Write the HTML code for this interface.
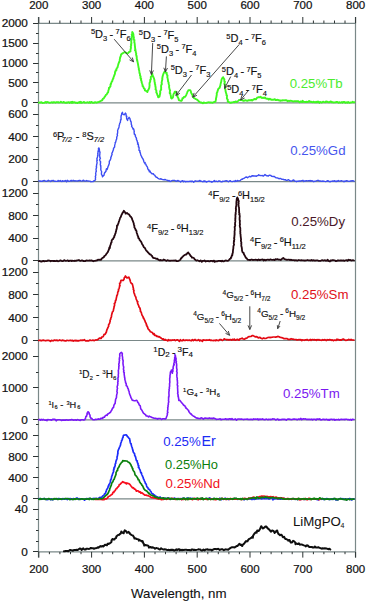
<!DOCTYPE html>
<html><head><meta charset="utf-8"><style>
html,body{margin:0;padding:0;background:#fff;}
svg{display:block;}
</style></head><body>
<svg width="366" height="603" viewBox="0 0 366 603">
<g stroke="#7a8888" stroke-width="1.2" fill="none">
<line x1="38.5" y1="17" x2="38.5" y2="557.6"/>
<line x1="355.5" y1="17" x2="355.5" y2="557.6"/>
<line x1="38.5" y1="23.3" x2="355.5" y2="23.3"/>
<line x1="38.5" y1="102.8" x2="355.5" y2="102.8"/>
<line x1="38.5" y1="181.6" x2="355.5" y2="181.6"/>
<line x1="38.5" y1="260.8" x2="355.5" y2="260.8"/>
<line x1="38.5" y1="340.5" x2="355.5" y2="340.5"/>
<line x1="38.5" y1="419.8" x2="355.5" y2="419.8"/>
<line x1="38.5" y1="498.9" x2="355.5" y2="498.9"/>
<line x1="38.5" y1="551.9" x2="355.5" y2="551.9"/>
</g>
<g stroke="#2c3232" stroke-width="1" fill="none">
<line x1="38.8" y1="17" x2="38.8" y2="23.3"/>
<line x1="38.8" y1="551.9" x2="38.8" y2="557.6"/>
<line x1="49.4" y1="20.5" x2="49.4" y2="23.3"/>
<line x1="49.4" y1="551.9" x2="49.4" y2="554.2"/>
<line x1="59.9" y1="20.5" x2="59.9" y2="23.3"/>
<line x1="59.9" y1="551.9" x2="59.9" y2="554.2"/>
<line x1="70.5" y1="20.5" x2="70.5" y2="23.3"/>
<line x1="70.5" y1="551.9" x2="70.5" y2="554.2"/>
<line x1="81.0" y1="20.5" x2="81.0" y2="23.3"/>
<line x1="81.0" y1="551.9" x2="81.0" y2="554.2"/>
<line x1="91.6" y1="17" x2="91.6" y2="23.3"/>
<line x1="91.6" y1="551.9" x2="91.6" y2="557.6"/>
<line x1="102.2" y1="20.5" x2="102.2" y2="23.3"/>
<line x1="102.2" y1="551.9" x2="102.2" y2="554.2"/>
<line x1="112.7" y1="20.5" x2="112.7" y2="23.3"/>
<line x1="112.7" y1="551.9" x2="112.7" y2="554.2"/>
<line x1="123.3" y1="20.5" x2="123.3" y2="23.3"/>
<line x1="123.3" y1="551.9" x2="123.3" y2="554.2"/>
<line x1="133.8" y1="20.5" x2="133.8" y2="23.3"/>
<line x1="133.8" y1="551.9" x2="133.8" y2="554.2"/>
<line x1="144.4" y1="17" x2="144.4" y2="23.3"/>
<line x1="144.4" y1="551.9" x2="144.4" y2="557.6"/>
<line x1="155.0" y1="20.5" x2="155.0" y2="23.3"/>
<line x1="155.0" y1="551.9" x2="155.0" y2="554.2"/>
<line x1="165.5" y1="20.5" x2="165.5" y2="23.3"/>
<line x1="165.5" y1="551.9" x2="165.5" y2="554.2"/>
<line x1="176.1" y1="20.5" x2="176.1" y2="23.3"/>
<line x1="176.1" y1="551.9" x2="176.1" y2="554.2"/>
<line x1="186.6" y1="20.5" x2="186.6" y2="23.3"/>
<line x1="186.6" y1="551.9" x2="186.6" y2="554.2"/>
<line x1="197.2" y1="17" x2="197.2" y2="23.3"/>
<line x1="197.2" y1="551.9" x2="197.2" y2="557.6"/>
<line x1="207.8" y1="20.5" x2="207.8" y2="23.3"/>
<line x1="207.8" y1="551.9" x2="207.8" y2="554.2"/>
<line x1="218.3" y1="20.5" x2="218.3" y2="23.3"/>
<line x1="218.3" y1="551.9" x2="218.3" y2="554.2"/>
<line x1="228.9" y1="20.5" x2="228.9" y2="23.3"/>
<line x1="228.9" y1="551.9" x2="228.9" y2="554.2"/>
<line x1="239.4" y1="20.5" x2="239.4" y2="23.3"/>
<line x1="239.4" y1="551.9" x2="239.4" y2="554.2"/>
<line x1="250.0" y1="17" x2="250.0" y2="23.3"/>
<line x1="250.0" y1="551.9" x2="250.0" y2="557.6"/>
<line x1="260.6" y1="20.5" x2="260.6" y2="23.3"/>
<line x1="260.6" y1="551.9" x2="260.6" y2="554.2"/>
<line x1="271.1" y1="20.5" x2="271.1" y2="23.3"/>
<line x1="271.1" y1="551.9" x2="271.1" y2="554.2"/>
<line x1="281.7" y1="20.5" x2="281.7" y2="23.3"/>
<line x1="281.7" y1="551.9" x2="281.7" y2="554.2"/>
<line x1="292.2" y1="20.5" x2="292.2" y2="23.3"/>
<line x1="292.2" y1="551.9" x2="292.2" y2="554.2"/>
<line x1="302.8" y1="17" x2="302.8" y2="23.3"/>
<line x1="302.8" y1="551.9" x2="302.8" y2="557.6"/>
<line x1="313.4" y1="20.5" x2="313.4" y2="23.3"/>
<line x1="313.4" y1="551.9" x2="313.4" y2="554.2"/>
<line x1="323.9" y1="20.5" x2="323.9" y2="23.3"/>
<line x1="323.9" y1="551.9" x2="323.9" y2="554.2"/>
<line x1="334.5" y1="20.5" x2="334.5" y2="23.3"/>
<line x1="334.5" y1="551.9" x2="334.5" y2="554.2"/>
<line x1="345.0" y1="20.5" x2="345.0" y2="23.3"/>
<line x1="345.0" y1="551.9" x2="345.0" y2="554.2"/>
<line x1="355.6" y1="17" x2="355.6" y2="23.3"/>
<line x1="355.6" y1="551.9" x2="355.6" y2="557.6"/>
<line x1="33" y1="102.5" x2="38.5" y2="102.5"/>
<line x1="33" y1="82.5" x2="38.5" y2="82.5"/>
<line x1="33" y1="63.5" x2="38.5" y2="63.5"/>
<line x1="33" y1="43.5" x2="38.5" y2="43.5"/>
<line x1="33" y1="23.5" x2="38.5" y2="23.5"/>
<line x1="36" y1="92.5" x2="38.5" y2="92.5"/>
<line x1="36" y1="72.5" x2="38.5" y2="72.5"/>
<line x1="36" y1="53.5" x2="38.5" y2="53.5"/>
<line x1="36" y1="33.5" x2="38.5" y2="33.5"/>
<line x1="33" y1="181.5" x2="38.5" y2="181.5"/>
<line x1="33" y1="159.5" x2="38.5" y2="159.5"/>
<line x1="33" y1="136.5" x2="38.5" y2="136.5"/>
<line x1="33" y1="114.5" x2="38.5" y2="114.5"/>
<line x1="36" y1="170.5" x2="38.5" y2="170.5"/>
<line x1="36" y1="147.5" x2="38.5" y2="147.5"/>
<line x1="36" y1="125.5" x2="38.5" y2="125.5"/>
<line x1="33" y1="260.5" x2="38.5" y2="260.5"/>
<line x1="33" y1="238.5" x2="38.5" y2="238.5"/>
<line x1="33" y1="215.5" x2="38.5" y2="215.5"/>
<line x1="33" y1="193.5" x2="38.5" y2="193.5"/>
<line x1="36" y1="249.5" x2="38.5" y2="249.5"/>
<line x1="36" y1="226.5" x2="38.5" y2="226.5"/>
<line x1="36" y1="204.5" x2="38.5" y2="204.5"/>
<line x1="33" y1="340.5" x2="38.5" y2="340.5"/>
<line x1="33" y1="317.5" x2="38.5" y2="317.5"/>
<line x1="33" y1="294.5" x2="38.5" y2="294.5"/>
<line x1="33" y1="272.5" x2="38.5" y2="272.5"/>
<line x1="36" y1="329.5" x2="38.5" y2="329.5"/>
<line x1="36" y1="306.5" x2="38.5" y2="306.5"/>
<line x1="36" y1="283.5" x2="38.5" y2="283.5"/>
<line x1="33" y1="419.5" x2="38.5" y2="419.5"/>
<line x1="33" y1="387.5" x2="38.5" y2="387.5"/>
<line x1="33" y1="356.5" x2="38.5" y2="356.5"/>
<line x1="36" y1="403.5" x2="38.5" y2="403.5"/>
<line x1="36" y1="372.5" x2="38.5" y2="372.5"/>
<line x1="33" y1="498.5" x2="38.5" y2="498.5"/>
<line x1="33" y1="477.5" x2="38.5" y2="477.5"/>
<line x1="33" y1="456.5" x2="38.5" y2="456.5"/>
<line x1="33" y1="435.5" x2="38.5" y2="435.5"/>
<line x1="36" y1="488.5" x2="38.5" y2="488.5"/>
<line x1="36" y1="467.5" x2="38.5" y2="467.5"/>
<line x1="36" y1="446.5" x2="38.5" y2="446.5"/>
<line x1="36" y1="424.5" x2="38.5" y2="424.5"/>
<line x1="33" y1="551.5" x2="38.5" y2="551.5"/>
<line x1="33" y1="509.5" x2="38.5" y2="509.5"/>
<line x1="36" y1="541.5" x2="38.5" y2="541.5"/>
<line x1="36" y1="530.5" x2="38.5" y2="530.5"/>
<line x1="36" y1="519.5" x2="38.5" y2="519.5"/>
</g>
<g font-family='"Liberation Sans", sans-serif' font-size="11.5" fill="#111" stroke="#111" stroke-width="0.22">
<text x="38.8" y="8.8" text-anchor="middle">200</text>
<text x="38.8" y="573" text-anchor="middle">200</text>
<text x="91.6" y="8.8" text-anchor="middle">300</text>
<text x="91.6" y="573" text-anchor="middle">300</text>
<text x="144.4" y="8.8" text-anchor="middle">400</text>
<text x="144.4" y="573" text-anchor="middle">400</text>
<text x="197.2" y="8.8" text-anchor="middle">500</text>
<text x="197.2" y="573" text-anchor="middle">500</text>
<text x="250.0" y="8.8" text-anchor="middle">600</text>
<text x="250.0" y="573" text-anchor="middle">600</text>
<text x="302.8" y="8.8" text-anchor="middle">700</text>
<text x="302.8" y="573" text-anchor="middle">700</text>
<text x="355.6" y="8.8" text-anchor="middle">800</text>
<text x="355.6" y="573" text-anchor="middle">800</text>
<text x="27.9" y="106.8" text-anchor="end" font-size="11.8">0</text>
<text x="27.9" y="86.9" text-anchor="end" font-size="11.8">500</text>
<text x="27.9" y="67.0" text-anchor="end" font-size="11.8">1000</text>
<text x="27.9" y="47.1" text-anchor="end" font-size="11.8">1500</text>
<text x="27.9" y="27.2" text-anchor="end" font-size="11.8">2000</text>
<text x="27.9" y="185.5" text-anchor="end" font-size="11.8">0</text>
<text x="27.9" y="163.1" text-anchor="end" font-size="11.8">200</text>
<text x="27.9" y="140.6" text-anchor="end" font-size="11.8">400</text>
<text x="27.9" y="118.1" text-anchor="end" font-size="11.8">600</text>
<text x="27.9" y="264.8" text-anchor="end" font-size="11.8">0</text>
<text x="27.9" y="242.2" text-anchor="end" font-size="11.8">400</text>
<text x="27.9" y="219.6" text-anchor="end" font-size="11.8">800</text>
<text x="27.9" y="197.0" text-anchor="end" font-size="11.8">1200</text>
<text x="27.9" y="344.4" text-anchor="end" font-size="11.8">0</text>
<text x="27.9" y="321.6" text-anchor="end" font-size="11.8">400</text>
<text x="27.9" y="298.8" text-anchor="end" font-size="11.8">800</text>
<text x="27.9" y="276.1" text-anchor="end" font-size="11.8">1200</text>
<text x="27.9" y="423.8" text-anchor="end" font-size="11.8">0</text>
<text x="27.9" y="391.9" text-anchor="end" font-size="11.8">1000</text>
<text x="27.9" y="360.1" text-anchor="end" font-size="11.8">2000</text>
<text x="27.9" y="502.8" text-anchor="end" font-size="11.8">0</text>
<text x="27.9" y="481.7" text-anchor="end" font-size="11.8">400</text>
<text x="27.9" y="460.6" text-anchor="end" font-size="11.8">800</text>
<text x="27.9" y="439.5" text-anchor="end" font-size="11.8">1200</text>
<text x="27.9" y="555.9" text-anchor="end" font-size="11.8">0</text>
<text x="27.9" y="513.2" text-anchor="end" font-size="11.8">40</text>
</g>
<text x="131" y="597.9" font-family='"Liberation Sans", sans-serif' font-size="13.3" fill="#111" stroke="#111" stroke-width="0.1">Wavelength, nm</text>
<polyline points="38.8,102.6 39.8,102.5 40.6,102.5 41.5,102.2 42.6,103.0 43.5,102.9 44.4,102.7 45.4,102.0 46.3,102.7 46.8,101.9 47.9,102.2 48.9,102.6 49.7,102.7 50.9,102.6 52.0,102.2 52.8,102.7 53.4,102.2 54.5,102.3 55.4,102.7 56.1,102.3 57.4,102.2 58.2,102.1 58.8,102.6 60.2,102.4 60.9,101.7 61.7,102.4 62.7,102.6 63.8,101.9 64.7,102.7 65.5,102.9 66.1,102.5 67.2,102.7 68.0,102.3 69.0,102.1 69.6,102.9 71.0,101.9 71.9,103.0 72.3,101.8 73.5,102.6 74.7,102.1 75.5,102.9 76.4,102.6 77.4,103.0 78.3,102.7 79.3,101.9 80.1,102.8 80.8,101.8 81.6,102.8 83.0,102.4 84.0,102.0 84.7,102.7 85.7,102.6 86.8,102.5 87.4,102.2 88.4,102.8 89.5,102.1 90.2,102.9 91.2,101.9 92.1,102.4 92.9,102.9 93.8,102.8 95.1,102.1 96.3,102.7 97.4,102.3 98.6,102.1 100.0,101.3 100.7,101.0 101.5,100.5 102.2,100.3 102.8,98.9 103.8,98.4 104.4,97.2 104.7,96.9 105.9,94.9 106.6,94.5 107.4,93.3 107.6,92.6 108.1,92.4 108.4,90.4 108.8,89.6 109.0,87.7 109.3,88.1 110.0,86.8 110.5,86.3 110.5,84.5 111.0,84.1 110.8,83.8 111.3,82.9 111.6,81.9 112.4,80.9 112.5,79.9 112.8,79.3 113.4,78.2 113.4,77.6 113.6,77.2 114.2,75.6 114.7,74.4 115.0,73.4 115.0,71.9 115.4,71.8 115.7,70.3 116.4,70.3 116.4,69.5 116.7,68.2 117.5,67.6 117.8,66.0 117.9,65.7 118.5,63.7 118.5,63.4 119.0,62.6 119.1,62.0 119.8,60.8 119.7,59.9 120.1,58.0 120.1,57.2 120.6,56.8 121.1,54.5 121.9,53.8 122.2,53.6 123.5,52.8 124.7,52.1 126.2,52.8 127.3,53.5 128.3,53.0 129.0,52.0 130.5,51.4 130.4,50.8 130.5,50.2 130.6,49.2 130.7,49.1 131.0,47.7 130.7,46.6 131.2,45.5 131.0,44.2 131.3,44.2 131.4,42.8 131.2,41.9 131.3,40.3 131.4,40.1 131.5,38.5 131.7,37.3 131.9,36.4 132.0,35.0 131.7,34.7 132.2,34.2 132.2,32.2 132.4,32.1 133.0,33.2 133.3,34.0 133.5,35.3 133.2,36.0 133.9,37.2 133.8,37.9 133.7,39.7 134.5,40.1 134.4,40.5 134.3,42.4 134.6,42.8 134.6,43.2 134.8,44.6 134.8,45.3 134.9,45.9 135.1,47.5 135.0,47.8 135.5,49.9 134.9,50.1 135.7,51.1 135.8,52.4 136.0,52.8 136.2,53.1 136.1,54.9 136.7,56.2 136.5,56.3 136.8,57.8 136.7,58.6 137.3,60.3 137.0,60.1 137.6,62.0 137.7,62.9 137.8,62.9 137.8,63.3 138.2,64.9 138.2,65.6 138.5,66.9 138.6,67.8 138.9,68.4 138.8,69.4 139.1,70.1 139.3,71.2 139.5,72.1 139.4,72.9 140.0,74.0 140.0,74.9 140.0,75.8 140.4,75.9 140.7,77.1 140.3,77.9 141.2,78.9 140.9,80.0 141.4,80.7 141.6,82.1 142.0,83.3 142.2,83.7 142.6,85.2 142.5,85.9 143.1,86.3 143.4,87.2 143.9,88.4 144.8,89.0 144.9,90.4 146.0,90.9 146.6,91.1 147.4,92.0 147.9,90.2 148.5,89.8 148.8,88.9 149.3,87.9 149.4,86.7 149.6,85.6 149.5,84.4 149.5,83.8 149.6,82.7 150.2,81.7 150.2,81.2 150.2,79.9 150.8,79.6 150.8,78.3 150.8,76.9 151.6,76.2 152.4,74.0 152.5,75.8 153.0,75.9 153.4,77.3 154.0,78.4 154.3,79.5 154.5,80.7 154.4,80.6 154.5,81.6 154.9,82.9 154.8,84.0 155.2,84.3 155.3,85.6 155.4,86.6 155.7,87.8 155.7,88.5 155.5,89.4 156.2,90.1 156.4,90.9 156.3,92.4 156.8,93.1 157.2,94.3 157.3,94.9 157.8,95.8 158.1,96.9 158.2,97.3 159.5,96.7 159.7,95.5 159.9,94.8 160.0,94.2 160.1,93.9 160.3,92.6 160.1,91.7 160.7,90.1 161.2,89.7 161.1,88.6 161.2,87.9 161.1,86.9 161.1,85.9 161.2,85.3 161.9,84.0 161.6,82.9 161.7,82.5 161.9,80.9 162.1,80.4 162.4,79.0 162.2,79.0 162.4,77.5 162.6,76.9 162.8,75.6 163.3,74.2 163.4,73.9 164.2,72.2 164.8,71.5 165.7,72.8 166.7,72.8 166.7,74.0 166.9,74.8 167.5,75.4 167.3,77.5 167.4,77.4 167.8,79.2 167.9,79.7 168.0,80.6 168.1,81.6 168.6,82.5 168.6,83.6 168.8,84.2 169.2,85.3 169.1,86.7 169.1,87.3 169.3,88.1 169.6,89.5 170.1,90.5 169.9,91.0 169.7,93.2 170.2,93.0 170.4,94.2 170.6,95.0 170.9,96.1 170.9,96.4 171.1,98.0 171.7,98.6 172.8,97.6 173.0,97.1 173.2,96.1 173.4,94.5 173.6,94.1 174.3,93.0 174.7,91.8 175.0,91.8 176.1,91.8 176.5,93.2 176.6,93.9 177.0,94.4 177.6,94.7 177.3,96.5 177.9,97.3 178.3,98.1 178.5,98.3 178.8,100.2 179.0,100.2 180.9,100.8 181.4,100.9 182.3,99.4 182.4,98.3 183.4,98.1 183.9,97.0 185.0,96.9 185.8,95.8 186.2,95.1 186.4,94.4 186.9,93.4 187.0,93.1 187.3,92.1 188.1,90.7 188.4,90.1 190.1,90.1 190.5,90.6 191.0,91.8 191.0,92.6 191.8,94.0 192.4,94.6 192.5,95.6 192.7,96.7 193.4,97.1 194.1,98.2 194.8,98.5 195.9,99.1 196.7,99.3 197.1,99.8 198.0,100.6 198.2,100.7 199.4,101.9 200.5,102.5 201.1,102.5 202.3,102.9 203.1,103.3 203.6,102.5 205.1,102.9 206.5,102.9 207.0,102.6 207.9,102.4 209.1,102.3 209.9,102.5 211.0,102.4 211.8,102.6 212.7,102.7 214.0,102.0 214.4,102.0 215.5,101.6 215.9,99.6 216.0,99.3 216.0,98.3 216.5,96.7 216.4,96.2 216.7,95.3 216.8,94.4 216.7,93.2 217.4,92.0 217.4,91.6 217.9,90.1 218.3,88.9 218.7,88.5 219.7,87.7 220.0,86.3 220.5,85.2 220.4,84.9 220.9,82.8 221.2,81.7 221.3,81.3 221.4,80.3 221.6,79.4 222.4,78.0 223.2,77.2 223.5,78.2 224.4,79.3 224.3,80.1 224.4,81.5 224.9,81.7 224.3,83.9 224.8,84.1 225.0,85.4 224.8,86.0 225.3,87.0 225.1,87.6 225.1,88.9 225.5,89.8 225.5,91.0 225.7,91.4 225.9,92.7 226.3,93.6 226.6,95.0 226.5,95.2 227.0,95.5 226.9,97.1 226.9,98.5 227.4,99.4 227.8,99.6 227.7,101.6 228.8,102.0 229.7,102.5 230.6,102.7 231.6,102.5 232.5,102.4 234.0,102.0 234.6,102.2 235.5,101.5 236.9,102.0 237.6,101.4 238.5,100.6 239.1,100.0 240.0,100.1 241.0,99.9 242.3,100.2 243.1,100.7 244.3,100.7 245.4,100.2 246.2,100.5 247.5,100.9 248.3,100.3 249.7,100.2 250.6,100.2 251.6,100.0 252.2,100.6 253.8,99.3 254.7,99.0 255.9,99.4 257.1,97.7 258.2,97.3 258.9,97.2 259.7,97.4 260.5,96.8 262.0,98.0 263.2,97.7 264.1,98.2 264.9,97.4 266.1,98.6 266.5,98.7 268.0,98.6 268.7,99.6 269.9,98.8 270.8,99.5 271.7,99.8 272.7,99.7 273.6,99.7 274.8,99.2 275.5,100.0 276.7,100.0 277.4,99.7 278.5,100.4 278.9,100.2 280.3,100.8 281.1,100.4 282.1,100.6 282.9,100.2 283.9,100.4 285.1,100.3 286.0,100.3 286.9,100.5 287.8,101.3 288.7,100.7 289.4,101.0 290.6,100.8 291.6,100.9 292.6,101.3 293.5,101.5 294.4,101.1 295.3,101.2 295.9,101.3 297.2,101.3 298.1,101.1 299.0,101.7 299.5,102.3 300.6,101.5 302.3,102.0 302.7,100.8 303.6,101.9 304.2,101.9 305.5,102.0 306.3,101.8 307.2,102.0 308.1,101.9 309.1,101.0 310.1,101.9 310.9,101.6 311.8,102.1 313.1,102.3 313.3,101.6 314.8,102.3 315.6,102.3 316.2,101.8 317.1,102.3 318.0,101.4 319.4,102.9 319.9,101.9 320.8,102.2 321.8,102.6 323.0,101.7 323.7,101.9 324.5,102.1 325.3,102.2 326.0,101.5 327.1,101.7 328.2,102.1 329.1,102.3 329.9,101.9 330.9,101.4 331.9,102.3 332.7,102.1 333.6,102.5 334.6,102.4 335.7,102.3 336.3,102.0 337.1,101.9 338.5,102.7 339.2,102.2 340.1,102.6 340.7,102.6 341.9,102.0 342.7,102.7 343.5,101.9 344.4,102.0 345.3,102.8 346.7,102.3 347.3,102.7 348.2,102.0 349.2,102.8 350.0,102.7 350.8,102.5 352.0,102.4 352.7,101.8 353.5,102.4 354.5,102.3" fill="none" stroke="#40f820" stroke-width="1.9" stroke-linejoin="round" stroke-linecap="round" />
<polyline points="38.8,180.9 40.2,181.0 40.9,181.3 41.6,181.2 42.5,181.2 43.2,180.6 44.4,180.5 45.6,181.2 46.3,181.2 47.1,181.2 48.3,180.2 49.0,180.8 50.5,180.9 50.9,181.5 51.9,180.5 52.9,180.6 53.6,180.4 54.3,181.4 55.4,181.1 56.2,181.4 57.7,181.3 58.0,180.4 59.0,181.2 60.3,180.5 61.2,181.4 62.0,181.5 62.3,180.7 63.4,181.2 64.7,181.0 65.4,180.5 66.6,181.7 67.3,180.3 68.3,181.0 69.1,181.3 70.2,180.8 71.2,180.3 71.7,181.1 72.8,180.7 73.2,180.3 74.9,181.0 75.5,180.8 76.2,180.9 77.5,181.0 78.4,180.8 79.2,180.4 79.9,180.5 81.0,180.9 82.0,181.2 83.0,180.4 83.6,180.2 84.5,181.0 85.4,181.1 86.5,180.5 87.1,180.9 88.2,181.0 88.9,181.1 89.9,181.1 90.8,181.7 91.8,181.6 93.2,181.5 93.6,180.9 94.4,180.7 95.2,180.1 95.5,179.8 95.4,178.4 95.6,177.1 95.3,176.7 95.7,175.6 95.8,175.0 95.8,173.9 95.6,173.1 95.9,172.2 96.2,171.1 96.4,171.3 96.0,169.6 96.2,168.5 96.6,167.7 96.2,166.7 96.6,166.3 96.5,165.3 96.6,164.8 97.1,162.9 96.8,160.8 97.4,160.3 97.0,160.3 96.9,158.3 97.2,158.1 97.4,157.2 98.0,155.4 97.6,155.3 98.1,154.0 97.7,153.5 98.0,152.8 98.0,151.5 98.5,150.0 98.5,148.8 98.4,148.4 98.8,147.9 99.1,148.2 99.4,149.8 99.5,150.2 99.3,151.4 100.1,152.1 99.9,152.8 99.8,154.7 99.7,154.9 99.7,156.1 99.9,157.0 99.8,157.8 100.4,158.2 99.6,159.8 100.1,161.1 100.6,161.7 100.4,162.2 100.6,162.4 100.3,164.9 100.8,165.4 100.6,166.3 100.9,166.7 100.8,168.4 100.9,168.4 100.8,169.8 101.0,170.3 101.5,171.1 101.6,171.9 101.5,172.9 101.4,173.9 101.8,175.0 102.3,175.5 102.5,176.8 103.3,175.9 104.0,175.3 104.2,174.2 104.6,172.6 105.0,172.5 106.1,171.0 106.0,170.4 106.5,168.7 107.1,169.6 107.6,168.1 108.0,166.8 108.2,166.1 108.5,165.7 109.0,164.1 109.2,164.0 109.3,163.3 109.3,161.3 110.1,160.4 110.1,160.1 110.8,158.7 110.8,157.8 110.8,157.3 111.3,156.7 111.5,155.6 112.1,154.4 111.8,153.5 112.4,152.4 112.7,151.6 113.3,150.1 113.5,149.6 113.4,148.9 113.7,148.1 114.2,147.5 114.6,147.1 114.7,145.0 114.8,144.8 115.1,143.9 115.2,142.4 115.6,142.4 115.8,141.6 116.2,139.9 116.6,139.2 116.8,137.9 116.7,137.3 117.1,136.1 117.5,135.6 117.2,134.5 117.5,133.5 117.7,132.0 117.6,131.0 117.7,130.0 118.0,129.6 118.5,128.3 118.8,127.8 119.0,126.9 119.2,125.3 119.5,124.5 119.8,123.1 120.4,122.4 120.4,121.4 120.7,120.5 120.5,119.9 121.1,119.5 121.1,118.7 121.0,117.2 121.1,116.1 121.3,115.6 121.6,114.6 121.7,113.5 122.5,112.3 122.3,113.6 123.1,114.2 124.2,114.8 125.4,113.1 125.9,113.7 126.3,116.5 126.7,116.8 126.8,116.2 126.5,118.1 127.1,119.7 127.6,120.4 127.6,119.2 128.5,118.4 129.1,117.3 130.0,118.6 130.1,119.5 130.6,120.7 130.6,121.2 131.1,121.8 131.3,123.3 131.2,124.0 131.8,125.5 131.6,126.3 132.7,127.8 133.0,129.0 133.5,128.7 134.0,130.0 134.1,131.5 134.3,131.2 134.1,132.6 134.4,134.5 134.9,134.3 135.4,135.3 135.4,136.6 136.0,137.4 136.5,138.3 136.4,138.8 136.5,139.7 137.2,140.8 137.3,142.0 137.9,142.7 137.5,144.1 138.3,144.0 138.5,145.9 138.4,146.9 138.9,147.0 139.1,148.0 139.0,150.3 139.9,150.7 139.7,152.0 140.1,152.0 140.3,152.9 140.6,154.2 141.1,155.7 141.4,156.1 141.8,157.2 142.4,158.1 143.0,159.0 143.6,160.4 143.7,161.2 144.5,163.0 145.1,162.5 145.1,163.9 145.9,164.2 146.3,165.6 146.9,166.3 147.5,167.2 147.7,168.7 148.6,170.2 148.9,169.8 149.4,171.8 150.0,171.1 150.6,172.5 151.7,173.4 152.0,173.9 153.4,173.8 153.6,174.5 154.9,175.3 155.0,175.5 155.5,176.6 156.4,177.3 157.2,177.5 158.0,178.4 159.1,178.9 160.0,179.2 160.9,178.7 161.6,179.3 162.8,179.6 164.0,179.7 165.0,179.5 165.9,179.9 167.2,180.2 168.2,180.9 169.1,180.4 170.2,181.5 170.9,181.1 171.9,180.6 172.7,180.4 173.5,180.4 174.6,180.4 175.5,180.8 176.5,181.3 177.4,180.7 178.1,180.5 179.1,181.3 180.0,181.1 180.6,182.0 182.1,180.7 182.8,180.6 183.3,181.8 184.7,181.1 185.4,181.7 186.4,181.5 187.3,181.4 188.4,181.5 189.1,181.6 190.1,181.0 191.1,181.7 191.9,181.0 192.6,181.3 193.7,182.2 194.6,181.1 195.4,180.8 196.3,181.1 196.7,181.1 198.2,181.3 199.0,180.9 200.0,180.4 201.0,181.4 201.8,181.3 203.1,181.8 204.1,180.8 204.4,181.5 205.6,181.2 206.4,182.1 207.3,181.7 208.6,181.2 209.3,181.1 210.2,181.6 211.1,181.5 211.9,182.2 212.7,181.7 213.6,181.3 214.3,180.5 215.0,181.6 216.4,181.1 217.4,181.6 218.1,181.5 219.0,180.8 220.3,181.2 220.9,181.7 222.1,181.9 222.6,181.1 224.0,181.4 224.5,181.1 226.2,180.6 227.0,180.9 227.7,181.4 228.5,181.7 229.0,181.1 230.2,180.7 231.1,181.3 232.1,181.7 233.1,181.4 234.0,181.2 235.0,181.5 235.4,180.5 236.7,181.3 237.5,180.5 238.4,180.9 239.7,180.6 240.4,180.3 241.6,179.2 242.3,179.4 242.9,178.7 243.9,178.3 244.5,178.1 245.5,177.2 246.6,177.0 247.6,177.8 248.7,176.8 249.2,176.6 249.7,176.3 250.7,176.9 251.6,176.0 252.7,175.8 254.1,176.0 255.3,175.9 256.2,176.3 257.3,175.6 258.1,175.5 258.7,174.8 259.8,175.5 261.3,175.6 262.1,175.5 263.5,176.1 264.5,175.1 265.0,174.6 266.2,175.5 267.1,175.8 268.4,176.0 269.2,175.1 270.9,175.5 271.6,176.2 272.0,176.3 273.2,176.5 274.4,176.4 275.4,177.5 275.7,177.6 276.5,177.9 277.8,178.0 278.5,178.5 279.4,178.7 280.1,178.4 281.0,178.7 282.0,179.4 283.2,179.2 283.9,179.8 284.5,179.7 285.6,179.6 286.1,180.4 287.4,180.2 288.5,179.6 289.2,180.3 290.7,181.2 291.6,181.1 292.5,180.5 293.7,180.0 294.5,181.0 295.5,181.1 296.5,181.7 297.3,181.2 298.0,181.2 299.2,181.0 300.2,181.0 300.7,181.2 301.8,180.7 303.0,180.3 303.9,181.5 304.8,180.9 305.3,181.0 306.4,180.6 307.3,180.9 308.4,180.8 309.2,180.8 310.2,180.5 311.0,181.2 311.9,180.6 312.8,181.1 313.8,181.7 314.9,181.2 315.7,181.1 316.4,180.8 317.4,180.4 318.5,180.4 319.4,181.1 320.3,180.9 321.0,181.2 321.9,181.2 323.0,181.0 323.9,181.3 324.7,181.4 325.6,181.6 326.5,181.4 327.3,180.7 328.7,181.0 329.2,181.5 330.3,181.7 330.9,181.3 331.9,181.4 333.0,180.8 333.9,181.3 334.5,180.7 336.1,181.6 336.8,181.0 337.5,181.3 338.3,180.5 339.3,181.1 340.2,181.1 341.3,180.6 342.2,180.9 343.2,181.1 344.0,181.8 344.9,181.0 345.8,181.2 346.7,180.7 347.5,180.9 348.5,181.4 349.7,181.4 350.4,180.9 351.0,181.1 352.0,180.6 353.2,180.8 354.0,181.2" fill="none" stroke="#3d4ef2" stroke-width="1.4" stroke-linejoin="round" stroke-linecap="round" />
<polyline points="38.8,261.2 39.7,260.9 40.8,261.6 41.5,261.5 42.4,261.3 43.3,260.8 44.3,261.4 45.0,261.1 46.0,261.1 47.0,261.1 47.9,260.4 48.6,260.7 49.8,260.7 50.7,261.3 51.3,260.8 52.4,260.9 53.4,261.0 54.5,260.9 55.4,261.2 56.0,261.1 57.0,260.7 57.9,261.3 58.7,261.1 59.6,260.8 60.4,260.4 61.5,260.9 62.5,261.2 63.3,261.0 64.2,260.2 65.2,260.6 65.9,260.8 66.9,260.7 67.6,260.3 68.8,261.2 69.6,260.7 71.0,260.7 71.4,261.0 72.0,260.6 73.5,260.8 74.2,261.0 74.9,260.6 75.9,260.8 77.1,260.4 77.7,260.4 78.9,260.0 79.6,260.6 80.4,260.8 81.4,260.5 82.4,260.4 83.3,261.0 84.3,261.1 85.1,261.1 85.8,260.7 86.7,260.5 87.6,260.6 89.0,260.7 89.6,260.3 90.4,260.7 91.3,260.4 92.2,260.7 93.3,261.3 94.4,260.8 95.0,260.9 96.1,260.5 97.3,260.4 98.0,259.7 99.3,259.9 100.1,259.6 101.1,259.8 101.7,258.8 102.5,257.8 103.1,257.7 103.9,257.0 104.4,256.0 105.3,255.5 106.0,254.7 106.5,253.7 107.0,253.1 107.5,252.5 108.0,251.7 108.5,250.3 108.9,249.7 109.2,248.2 109.4,247.3 109.9,248.0 110.0,246.4 110.5,244.9 110.8,244.4 110.9,243.1 111.6,242.3 111.6,241.4 111.7,240.4 112.5,239.2 113.1,239.1 113.8,237.4 114.3,237.0 114.2,236.1 114.8,235.4 115.1,234.2 115.3,233.5 115.7,232.9 115.8,231.7 116.1,231.2 116.3,229.7 116.5,229.5 116.9,227.7 116.9,227.6 117.0,225.3 117.5,225.7 117.9,224.5 118.4,223.4 118.6,222.6 118.9,221.5 119.1,221.1 119.8,218.9 120.0,218.0 120.6,217.3 120.9,216.7 121.2,215.7 121.8,214.3 122.1,214.1 122.4,213.1 123.2,212.1 123.9,210.8 124.6,212.0 125.3,212.3 125.6,213.7 127.0,213.0 127.8,213.8 128.9,214.4 129.7,215.3 130.1,216.2 131.1,217.0 131.7,217.9 132.1,218.9 132.2,219.6 132.7,220.6 133.0,221.4 133.5,222.7 133.8,223.6 133.8,224.2 134.0,225.1 134.4,225.8 134.3,227.1 134.8,228.0 135.2,228.6 135.6,230.1 136.0,230.0 136.5,231.2 136.6,232.2 136.8,233.1 137.2,233.9 137.6,235.6 137.9,236.0 138.3,236.8 138.2,238.0 139.0,238.3 139.4,239.6 140.1,240.5 140.5,240.9 141.1,241.8 141.7,242.9 141.9,243.8 142.6,244.8 143.1,245.5 143.3,246.2 143.8,247.2 144.4,247.6 144.9,248.0 145.6,249.4 146.1,250.3 146.8,251.0 147.6,252.0 148.5,252.9 148.9,253.3 149.8,254.3 150.5,254.3 151.6,255.7 152.3,256.3 152.8,257.7 154.1,258.1 155.1,258.2 156.1,258.8 157.3,258.6 158.4,259.8 159.3,260.3 160.7,260.0 161.5,260.4 162.8,260.4 163.6,259.5 164.5,259.8 165.5,260.5 166.5,260.9 167.3,260.2 168.1,260.5 169.2,260.6 170.0,260.8 170.8,260.6 171.9,260.7 173.0,260.7 173.8,260.5 174.7,260.6 175.6,260.3 176.4,261.0 177.8,261.1 178.7,260.7 180.0,259.9 180.6,259.5 180.8,258.4 181.4,258.2 182.2,257.1 182.7,256.7 183.5,255.9 184.3,255.3 185.6,254.5 186.4,254.6 187.0,253.6 187.6,252.9 188.2,252.4 188.8,253.5 189.6,254.1 190.2,255.3 190.8,256.2 191.4,256.4 191.9,257.7 192.8,257.7 193.9,258.0 194.8,259.5 195.1,259.6 196.3,260.7 197.3,260.2 198.6,260.8 199.4,261.3 200.6,260.4 201.8,261.8 203.0,260.8 204.0,260.8 204.5,260.5 205.7,261.5 206.2,261.2 207.4,261.1 208.2,261.0 209.1,261.4 210.0,261.3 210.7,260.8 211.8,260.9 212.8,261.4 214.0,260.6 214.6,261.9 215.6,261.3 216.6,261.4 217.5,261.3 218.4,260.9 219.3,260.9 220.7,261.0 221.5,261.4 222.2,260.7 223.3,261.4 224.0,261.3 225.0,260.7 226.2,260.5 227.2,260.8 228.3,260.6 229.3,259.6 229.9,258.9 230.9,258.5 230.9,257.5 231.6,256.9 231.8,255.4 232.4,255.1 232.4,253.9 232.6,253.4 232.9,252.3 232.9,251.1 233.0,250.6 233.1,249.2 233.3,248.8 233.4,246.9 233.5,245.8 233.9,245.0 234.1,244.8 233.7,243.3 233.9,241.8 234.2,241.2 233.8,241.1 234.4,239.5 234.0,238.1 234.3,237.9 234.4,236.1 234.4,235.6 234.7,234.8 234.4,234.0 234.7,233.2 234.5,231.9 234.7,230.6 234.8,230.3 234.8,228.9 234.8,228.0 234.6,227.0 235.1,226.0 235.3,225.1 235.0,224.5 235.1,222.7 235.3,221.7 235.4,221.1 235.2,220.2 235.3,219.8 235.4,218.4 235.4,217.3 235.5,216.1 235.4,215.7 235.5,214.1 235.8,213.9 235.6,212.9 235.8,211.9 235.9,211.1 235.9,209.7 236.1,209.1 235.8,208.7 236.0,207.0 236.1,206.1 236.3,205.9 236.4,204.5 236.3,203.7 236.5,202.7 236.3,202.2 236.6,200.9 236.6,200.1 236.8,198.7 237.3,197.4 238.0,198.6 238.3,199.9 238.5,200.7 238.8,201.4 238.5,202.3 238.7,203.6 238.4,204.6 238.6,205.4 238.6,206.7 239.0,207.2 239.0,208.1 239.1,209.0 239.1,210.3 239.2,211.2 239.0,212.1 239.3,213.2 239.6,213.9 239.2,214.4 239.6,214.8 239.8,216.7 239.6,217.5 239.6,218.4 239.6,219.4 239.6,220.0 240.0,220.8 239.8,221.9 239.8,223.1 240.0,224.5 239.8,225.3 239.7,225.7 240.0,227.3 240.3,228.1 240.3,228.4 240.3,229.8 240.4,230.9 240.2,231.7 240.4,232.5 240.3,233.7 240.6,234.5 240.6,236.0 240.7,236.4 240.8,237.3 240.9,238.1 241.1,239.3 240.9,240.4 241.0,241.5 241.4,242.4 241.2,243.6 241.4,243.7 241.3,245.5 241.3,246.0 241.7,247.1 241.9,248.5 242.0,249.5 242.0,250.4 242.5,252.1 243.0,252.7 243.8,253.0 243.9,254.2 244.9,255.7 245.2,256.5 245.9,257.7 246.6,258.3 247.7,259.8 249.2,259.8 250.1,260.1 251.0,259.7 251.8,259.5 252.8,260.1 253.8,259.9 254.5,259.8 255.7,259.6 256.3,259.8 257.3,260.3 258.6,259.4 259.2,260.0 260.3,260.0 261.2,259.6 261.9,259.6 262.9,259.4 263.6,260.5 264.8,259.6 265.6,260.4 266.4,259.9 267.6,259.7 268.5,259.7 269.1,260.1 270.1,259.5 270.9,259.5 271.9,259.8 272.5,259.8 273.8,259.7 274.7,260.1 275.5,259.1 276.5,259.5 277.5,259.1 278.6,259.7 279.7,259.6 280.7,260.0 281.6,259.3 282.3,258.6 283.3,258.0 284.3,259.0 285.3,259.4 286.0,259.5 286.9,259.8 288.2,259.6 289.3,259.6 289.9,260.1 290.7,259.7 291.9,260.1 293.0,260.2 294.0,260.1 294.8,260.5 295.9,260.2 296.8,260.5 297.7,260.6 298.7,260.0 299.5,260.2 300.5,260.4 301.4,260.1 302.3,260.3 303.2,260.4 304.2,260.5 305.1,260.6 305.9,260.4 306.8,260.3 307.6,260.0 308.5,260.3 309.6,260.4 310.5,260.6 311.5,259.9 312.3,260.6 313.2,260.2 314.2,260.6 315.0,260.5 315.8,260.6 316.7,260.4 317.4,260.4 318.7,260.8 319.4,260.9 320.6,260.8 321.3,260.5 322.1,260.2 323.5,260.6 324.0,260.5 325.0,260.1 325.9,260.8 326.8,260.7 327.7,259.7 328.4,261.0 329.9,261.5 330.6,260.3 331.6,260.7 332.2,260.2 333.2,260.1 334.0,260.3 334.9,260.4 335.9,261.2 336.9,260.9 337.5,260.5 338.5,260.3 339.8,260.6 340.1,260.5 341.3,260.4 341.8,260.6 343.3,260.3 344.3,260.9 344.9,260.5 345.6,260.3 346.8,260.1 347.6,260.9 348.6,259.7 349.3,260.2 350.3,260.0 351.1,260.5 352.2,260.3 352.9,260.2 354.0,260.5" fill="none" stroke="#240810" stroke-width="1.8" stroke-linejoin="round" stroke-linecap="round" />
<polyline points="38.8,340.5 39.6,340.2 40.6,340.3 41.2,340.8 42.3,340.4 43.3,340.2 44.7,340.5 45.1,340.6 45.9,340.8 47.1,340.3 47.7,340.3 48.5,340.3 49.9,340.9 50.5,341.4 51.5,340.4 52.4,340.7 53.2,340.8 54.5,340.0 55.3,340.4 56.0,340.4 56.8,340.0 57.9,340.7 58.8,340.5 59.7,339.9 60.4,340.3 61.4,340.7 62.3,340.2 63.2,340.4 64.1,340.6 65.4,340.9 65.9,340.9 67.0,340.3 68.0,340.5 68.8,340.6 69.6,340.4 70.3,340.2 71.2,340.6 72.5,340.3 73.3,341.1 74.3,340.4 75.1,340.9 75.9,340.3 76.7,340.9 78.0,340.6 78.6,340.9 79.6,340.5 80.5,340.2 81.5,340.3 82.2,340.2 83.2,340.4 84.3,339.7 85.1,340.5 85.9,341.0 86.9,340.7 87.9,340.9 88.6,341.0 89.6,340.2 90.5,340.2 91.0,340.5 92.1,340.5 92.9,340.1 94.2,340.7 94.8,340.2 96.0,339.9 97.1,340.0 97.8,339.6 99.4,338.1 99.8,338.1 101.3,338.3 101.7,337.1 103.1,336.7 103.6,335.6 104.1,334.3 105.1,334.3 105.6,333.6 106.0,332.5 106.3,332.3 106.8,330.1 107.0,329.6 107.7,328.2 108.0,327.4 108.6,326.4 108.6,325.6 108.7,324.3 109.0,324.3 109.6,323.4 109.8,322.3 110.2,321.2 110.0,320.4 110.7,319.3 110.7,318.1 111.2,317.6 111.5,316.4 111.5,315.5 111.8,314.6 111.8,313.8 112.2,313.1 112.3,312.2 113.0,311.5 113.4,310.5 113.6,308.9 114.0,307.7 114.0,306.8 114.5,305.6 114.6,304.6 114.3,303.6 115.3,302.6 115.3,301.9 115.5,300.4 115.8,300.6 116.2,299.1 116.3,298.1 116.8,296.2 116.7,295.9 117.4,294.7 117.6,293.7 117.8,292.1 118.3,291.3 118.5,290.9 118.5,289.3 118.9,289.0 119.1,288.4 119.5,286.9 119.5,285.9 120.0,285.7 119.7,284.2 119.6,283.2 120.6,282.8 120.6,281.7 121.0,280.3 122.2,280.4 123.2,280.4 124.0,279.3 124.4,277.5 124.8,277.3 125.4,276.0 126.2,277.2 126.9,277.9 128.0,277.7 128.8,277.1 129.5,278.6 129.6,279.1 130.1,280.2 130.4,281.5 130.6,282.1 131.0,283.0 132.3,283.9 132.2,284.2 132.5,284.6 132.9,286.1 133.1,287.3 133.4,288.5 133.5,288.9 133.3,289.6 134.0,290.5 133.7,291.6 134.0,292.8 134.6,294.1 134.6,294.6 134.9,295.3 135.3,296.1 135.9,297.4 136.1,298.5 136.3,299.4 137.0,300.6 137.2,301.7 137.8,301.5 137.5,302.8 137.5,303.0 138.2,304.8 138.6,305.4 138.9,306.5 139.0,307.0 139.8,307.8 140.1,309.1 140.5,310.2 140.3,311.1 141.2,312.2 141.5,313.2 141.6,313.5 142.0,315.1 142.6,316.0 142.9,316.3 143.3,318.0 143.6,317.9 144.1,319.2 144.6,320.2 145.0,321.0 145.5,322.5 146.0,323.1 146.4,324.3 146.3,324.9 146.8,325.1 147.0,326.4 147.5,326.7 147.7,327.8 148.0,328.7 149.1,329.9 149.6,330.5 150.4,331.7 151.1,332.0 152.3,332.5 152.9,333.5 153.4,334.4 154.2,333.7 154.6,335.3 155.8,335.3 156.5,336.3 157.3,336.2 158.2,336.8 158.9,336.7 159.6,336.8 160.6,337.8 161.4,338.3 162.4,339.1 163.4,338.8 164.1,340.1 165.2,339.5 165.5,340.2 166.7,340.0 167.7,340.9 168.7,339.6 169.2,340.5 170.4,340.1 171.4,340.5 172.3,339.9 172.9,340.2 174.3,339.8 175.4,340.6 176.0,340.3 177.1,339.8 177.6,339.8 178.5,340.4 179.4,341.3 180.4,339.7 181.2,340.6 182.5,340.6 183.3,339.6 184.1,340.3 185.1,340.4 186.0,340.1 187.0,340.0 187.9,340.5 188.7,340.2 189.4,340.1 190.1,340.4 191.4,340.8 192.4,339.6 193.4,340.7 194.1,340.1 195.1,339.5 196.0,340.5 196.8,340.3 197.5,340.4 198.5,339.6 199.8,341.0 200.1,340.2 201.2,340.4 202.4,341.4 203.0,339.8 204.0,340.1 204.8,340.0 206.1,340.3 206.8,339.9 207.3,340.2 208.6,340.1 209.5,339.7 210.3,340.3 211.5,340.2 212.5,340.5 213.2,340.6 214.1,340.2 215.5,340.7 216.2,339.9 216.9,340.5 217.8,340.3 218.7,340.6 219.7,339.7 220.7,339.5 221.6,339.9 222.5,340.4 223.2,339.8 224.2,338.9 225.2,339.2 226.3,339.5 226.8,339.9 227.9,339.5 228.9,340.1 229.6,339.6 230.5,339.6 231.8,340.1 232.5,339.3 234.0,339.9 234.3,339.1 235.4,340.2 236.5,339.8 237.3,339.3 238.0,339.6 239.0,340.2 240.0,338.8 241.0,338.6 242.2,338.2 243.0,339.0 244.4,339.2 245.8,338.3 246.8,338.1 247.7,337.3 249.1,336.6 250.3,336.5 251.2,336.3 252.5,335.5 253.1,335.6 254.3,336.4 255.3,336.8 256.8,336.6 258.3,337.9 258.9,337.6 260.0,337.4 261.0,338.3 262.2,338.8 263.8,337.9 264.4,338.5 265.7,338.3 266.7,338.1 268.0,337.5 269.1,337.3 270.1,337.6 271.0,337.3 272.5,337.1 273.1,337.0 274.3,337.0 275.5,337.1 276.6,336.9 277.7,336.4 279.1,336.8 280.3,337.4 280.9,337.5 281.7,337.6 282.9,338.0 284.1,338.7 285.2,338.5 286.1,338.7 286.8,338.6 288.0,339.3 289.3,339.4 290.1,339.4 291.1,338.7 292.1,339.1 293.0,339.1 294.2,339.5 295.7,339.5 296.2,339.6 297.0,339.9 298.2,339.8 299.1,339.5 300.1,339.8 300.9,339.7 301.8,340.5 302.5,339.9 303.5,340.0 304.3,340.3 305.4,339.8 306.2,339.9 307.2,339.5 308.2,340.2 308.9,340.4 310.3,339.5 310.9,340.4 311.4,340.1 312.4,339.5 313.8,339.9 314.2,339.7 315.6,339.8 316.3,340.3 317.0,339.7 318.0,339.8 319.1,339.7 319.6,340.1 320.6,340.2 321.5,340.3 322.5,339.7 323.1,340.2 324.4,339.7 325.4,339.9 326.3,340.5 327.0,339.7 327.8,339.8 328.8,340.0 329.6,339.5 330.7,339.8 331.4,340.3 332.3,339.9 333.3,340.7 334.3,340.0 334.9,340.0 336.0,340.4 336.9,339.2 337.7,339.8 338.5,339.5 339.6,340.2 340.5,339.9 341.4,340.1 342.0,339.6 343.3,339.0 344.2,339.6 345.0,340.0 345.6,340.4 347.0,340.2 347.8,339.9 348.6,339.4 349.6,339.7 350.6,340.0 351.1,339.4 352.2,340.0 353.2,340.1 354.0,340.0" fill="none" stroke="#e30812" stroke-width="1.7" stroke-linejoin="round" stroke-linecap="round" />
<polyline points="38.8,419.8 39.8,419.4 40.6,420.1 41.5,419.4 42.6,419.9 43.2,419.4 44.4,420.0 45.4,420.3 46.1,419.8 47.0,420.6 47.8,419.6 48.9,419.8 49.8,419.7 50.8,419.9 51.7,420.1 52.6,419.3 53.4,419.4 54.4,419.4 55.3,419.6 56.2,420.8 56.9,420.1 58.1,419.7 59.0,419.8 59.7,419.8 60.7,420.0 61.6,420.4 62.6,420.0 63.4,420.1 64.4,420.1 65.5,420.2 66.2,419.8 67.3,420.0 68.1,420.3 69.1,420.0 70.0,419.9 70.8,419.9 71.7,419.5 72.9,420.0 73.8,420.1 74.6,420.0 75.6,419.9 76.3,420.3 77.6,419.6 78.3,419.9 78.9,420.1 80.3,420.5 81.0,419.9 81.7,419.8 82.8,419.8 83.8,420.1 84.8,419.8 85.2,418.7 85.5,418.3 85.9,416.5 86.6,416.2 86.6,415.6 87.2,414.2 87.0,413.2 88.0,412.6 87.9,411.7 89.0,412.6 89.4,414.5 89.8,414.7 90.1,415.7 90.0,416.5 90.6,417.9 91.2,418.5 91.8,418.4 92.6,419.4 93.6,419.7 94.6,419.7 95.6,419.3 96.6,419.5 97.4,419.2 98.6,418.9 100.0,419.3 100.7,418.4 101.8,418.2 102.7,418.5 103.1,417.2 104.4,417.3 105.3,415.7 106.7,415.1 107.2,415.3 107.5,414.3 108.3,413.8 108.9,413.4 110.1,412.3 110.4,412.5 111.3,410.6 111.6,410.4 112.2,409.0 112.8,407.9 113.4,407.8 113.6,407.2 113.8,405.7 114.1,404.9 114.8,403.6 115.1,403.6 115.2,402.6 115.4,401.1 115.5,400.2 115.7,398.9 116.1,398.4 116.5,397.3 116.5,396.5 116.5,395.8 116.9,393.8 117.1,393.2 117.3,392.5 116.9,391.6 117.1,390.6 117.2,389.1 117.5,388.6 117.2,387.6 117.2,386.1 117.7,385.3 117.7,384.2 117.9,383.5 117.7,382.3 118.1,381.4 117.9,381.1 118.0,379.9 118.0,379.0 117.9,377.9 118.4,376.9 118.3,376.3 118.3,375.1 118.3,374.4 118.5,373.4 118.4,372.1 118.4,371.1 118.3,370.7 118.6,369.4 118.8,368.4 118.8,367.9 118.8,366.6 119.1,365.7 118.8,364.7 118.9,363.6 119.3,362.6 119.2,362.2 119.2,361.7 119.5,360.5 119.2,358.9 119.7,358.2 119.4,357.9 119.7,356.9 119.8,355.6 119.7,354.7 119.9,353.5 120.5,353.0 121.1,352.6 121.6,352.4 122.4,353.8 122.1,355.2 122.4,356.2 122.4,356.4 122.6,357.7 122.6,358.8 122.7,359.7 123.1,360.3 123.1,361.7 123.0,362.1 123.0,363.8 123.2,364.9 123.3,365.7 123.6,366.7 123.7,367.5 123.5,368.3 123.5,369.8 123.9,370.4 123.6,371.9 124.3,372.7 124.1,373.9 124.2,374.3 124.3,375.1 124.5,376.4 124.6,377.8 124.9,378.0 124.8,379.1 125.1,380.3 125.4,381.1 125.6,383.0 126.1,383.3 126.3,384.5 126.2,385.6 126.9,385.9 127.5,387.2 127.7,388.1 128.2,388.8 128.5,389.8 128.6,390.6 129.1,391.4 129.3,392.9 129.5,393.8 129.8,394.5 130.1,395.2 130.6,396.4 130.8,397.4 131.5,398.5 131.7,399.0 132.2,400.2 133.2,400.4 133.8,400.6 135.2,400.8 136.8,400.3 137.6,401.6 137.6,402.3 138.4,402.9 138.8,403.7 139.1,404.7 139.7,405.4 140.3,405.9 140.5,407.5 140.5,408.0 141.1,409.3 141.5,409.6 142.1,410.6 142.8,412.0 143.3,412.9 143.8,413.4 144.7,414.1 145.7,414.9 146.1,415.9 147.4,416.0 148.5,416.9 149.3,416.1 150.4,416.8 151.1,417.0 152.1,417.6 152.8,417.7 154.1,418.2 154.8,418.2 155.9,418.4 156.8,418.5 157.6,419.1 158.4,418.5 159.5,418.5 160.5,418.5 161.5,419.4 162.8,418.8 163.1,418.7 164.2,418.8 165.1,419.1 166.0,418.4 166.3,417.6 166.7,416.4 167.2,415.2 167.4,414.6 167.3,413.1 167.9,412.5 167.5,411.4 167.6,410.3 167.8,409.3 167.9,409.1 167.7,407.5 168.1,406.8 168.0,405.4 168.4,404.8 168.3,404.0 168.4,402.8 168.8,402.0 168.5,400.7 168.5,400.5 168.6,399.6 168.6,398.2 168.6,396.8 168.9,397.0 169.0,395.6 169.0,394.6 168.9,393.4 168.9,392.9 169.0,391.2 169.2,390.5 169.0,389.5 169.4,388.7 169.3,387.8 169.4,386.9 169.6,386.3 169.6,384.5 169.5,384.1 169.5,383.9 169.8,382.8 169.8,381.0 169.7,380.6 169.7,378.7 169.7,378.3 169.9,377.9 170.0,376.3 170.0,375.2 170.3,374.4 170.3,373.2 170.5,372.0 171.0,371.1 171.4,370.0 171.8,371.5 172.4,373.3 172.5,371.6 173.0,371.1 172.7,369.7 173.2,368.4 173.1,367.4 173.3,366.3 173.5,365.7 174.2,364.7 173.7,364.3 174.1,362.9 174.4,361.8 174.3,360.7 174.5,359.7 174.7,359.1 174.7,357.3 175.0,356.5 175.2,355.8 174.9,354.7 175.5,355.9 175.5,357.1 175.9,358.0 176.1,358.8 176.0,360.0 175.8,360.4 176.4,361.7 176.0,362.8 176.5,363.5 176.7,365.2 176.6,365.8 176.6,366.3 176.6,367.5 176.7,368.5 177.0,369.5 176.9,370.5 176.6,371.2 177.0,372.1 177.1,372.7 177.0,373.8 176.8,374.7 176.9,376.4 177.0,376.9 177.0,377.6 177.3,378.3 177.1,380.0 177.4,380.3 177.4,381.0 177.4,381.9 177.6,383.1 177.3,384.0 177.3,385.1 177.8,386.0 177.5,386.9 177.6,388.0 177.6,388.2 177.7,389.9 177.7,390.5 177.7,390.9 177.9,392.4 177.6,393.2 178.0,394.5 178.2,395.4 177.9,395.9 178.5,397.1 178.4,397.5 178.7,398.8 178.8,400.4 179.7,400.2 180.4,401.1 181.3,402.2 181.9,402.9 182.7,403.8 183.2,404.6 184.0,405.5 184.7,405.5 185.2,406.8 185.9,407.4 186.0,408.3 187.1,408.9 187.8,409.9 188.6,410.4 188.8,411.6 189.5,412.5 189.9,412.9 190.7,413.9 191.0,413.8 192.0,415.1 192.8,415.7 193.7,416.3 194.4,416.6 195.6,417.5 196.7,418.2 197.6,418.0 198.3,418.5 199.7,418.5 200.3,418.8 201.2,417.8 202.2,418.2 203.3,419.1 204.0,418.5 205.1,418.0 206.5,418.2 207.0,418.2 208.0,418.6 209.2,417.9 209.8,418.2 211.0,418.4 212.0,418.3 212.6,418.7 213.3,418.0 214.8,418.6 215.8,419.0 216.5,419.4 217.2,419.2 218.4,419.2 219.2,419.0 220.2,418.8 221.0,419.6 221.9,419.4 222.8,419.3 223.8,419.3 224.6,419.3 225.6,418.8 226.8,419.5 227.6,419.1 228.4,419.4 229.3,418.7 230.3,418.9 231.1,419.5 232.0,418.5 232.7,419.4 233.8,419.5 234.6,419.2 235.5,418.9 236.5,420.2 237.3,419.3 238.2,419.0 239.3,419.0 240.2,419.2 241.1,418.9 242.0,419.2 242.7,419.2 243.7,419.6 244.5,419.2 245.5,419.3 246.5,419.3 247.1,419.1 248.4,419.4 249.0,419.5 250.1,419.4 251.0,419.4 251.9,419.2 252.7,419.6 253.7,418.8 254.3,419.3 255.6,419.1 256.4,419.2 257.4,418.9 258.2,419.8 258.9,419.1 260.0,419.6 261.1,419.1 261.9,419.5 262.7,418.8 263.5,419.5 264.8,419.6 265.3,419.6 266.5,419.1 267.5,419.6 268.2,419.7 268.8,419.2 270.3,419.6 270.8,419.2 271.9,419.5 272.6,418.9 273.9,419.0 274.7,419.1 275.7,419.9 276.6,419.8 277.2,419.0 278.1,419.1 278.8,420.1 279.8,419.5 281.1,419.7 282.1,419.2 282.9,419.4 283.6,419.4 284.5,419.2 285.5,419.5 286.3,420.1 287.2,419.2 288.0,419.1 289.2,419.1 290.0,419.4 291.1,419.5 291.9,419.6 292.7,419.2 293.6,419.1 294.5,419.1 295.4,419.3 296.3,419.3 297.2,419.8 298.2,419.1 298.9,419.1 299.7,419.4 300.9,418.4 301.5,419.7 302.8,419.1 303.5,418.8 304.5,419.0 305.5,418.8 306.3,419.4 306.9,419.3 307.9,419.4 308.9,419.4 309.9,419.3 310.9,419.6 311.7,419.1 312.7,419.9 313.5,419.2 314.5,419.3 315.4,419.4 316.0,420.1 316.8,419.1 318.1,419.0 319.1,419.5 319.7,418.8 320.9,419.9 321.7,419.7 322.5,419.4 323.5,419.4 324.3,419.4 325.0,419.9 326.2,419.2 327.0,419.4 328.0,420.1 329.0,419.3 329.5,420.2 330.6,419.3 331.8,419.3 332.3,419.6 333.2,419.6 334.2,419.3 334.8,420.2 336.2,419.6 337.2,419.7 337.8,419.6 338.6,419.4 339.4,420.0 340.4,419.4 341.1,419.2 342.3,419.4 343.3,419.5 344.0,419.4 345.1,419.6 345.7,419.2 347.0,419.2 347.6,419.8 348.7,419.5 349.4,419.9 350.6,419.4 351.5,420.2 352.3,419.2 353.1,419.4 354.0,419.5" fill="none" stroke="#7a18f8" stroke-width="1.6" stroke-linejoin="round" stroke-linecap="round" />
<polyline points="38.8,499.0 39.8,498.5 40.5,498.9 41.6,499.3 42.8,498.9 43.2,498.8 44.2,498.5 45.4,499.2 46.4,499.4 47.2,499.6 48.1,499.5 49.0,498.8 49.8,499.0 50.8,499.7 51.6,498.8 52.5,499.8 53.6,499.2 54.5,499.2 55.2,498.8 56.1,498.9 57.4,499.3 58.1,498.7 58.8,498.6 59.9,498.9 60.3,498.8 61.7,499.5 62.7,498.7 63.3,498.7 64.5,499.1 65.5,498.7 66.1,499.1 67.2,499.6 68.2,498.5 69.2,499.0 70.1,498.5 71.0,499.3 72.0,499.2 72.7,499.2 73.8,498.6 74.6,499.3 75.6,499.0 76.4,498.0 77.3,498.0 78.5,499.3 79.2,498.7 79.6,498.9 80.9,499.2 81.7,498.9 82.8,498.9 83.8,499.4 84.6,500.2 85.6,498.8 86.8,498.6 87.3,499.1 88.6,499.0 89.4,498.4 90.7,498.8 91.2,499.1 92.5,498.7 93.5,498.7 94.0,498.4 94.9,498.8 96.1,498.7 96.6,498.4 98.0,499.0 98.7,498.2 99.8,497.4 100.4,497.4 101.1,498.1 102.0,496.9 102.9,495.8 103.5,495.7 104.4,494.5 104.6,493.7 105.4,493.5 105.7,492.4 106.1,491.6 106.7,489.4 107.3,488.9 107.8,487.9 107.9,487.7 108.3,485.9 108.9,485.8 108.9,484.5 109.6,483.8 110.0,482.7 110.2,482.2 110.6,480.9 110.4,480.2 110.9,479.6 111.3,478.7 111.6,477.1 111.7,476.2 112.2,475.5 112.4,474.5 112.8,473.3 113.1,472.6 113.6,471.7 113.5,470.1 114.0,469.8 113.9,468.1 114.6,467.7 114.4,467.1 115.2,465.8 115.1,464.8 115.3,463.7 115.7,463.5 115.8,462.0 116.0,461.3 116.4,460.1 116.7,459.5 117.0,458.7 117.1,457.8 117.0,456.9 117.3,456.3 117.7,454.3 117.6,454.1 118.0,453.2 117.8,452.1 118.0,451.0 118.4,449.8 119.0,448.7 119.3,447.8 119.5,447.2 120.0,446.3 120.2,445.7 120.6,444.9 120.6,443.8 121.3,442.0 121.5,441.3 121.5,440.8 122.3,439.7 122.3,439.0 122.6,438.0 123.1,437.2 123.2,436.0 123.5,435.3 124.1,435.2 125.3,435.0 125.9,434.8 126.7,435.3 127.4,436.5 128.1,437.1 128.8,438.1 129.7,438.9 129.8,440.2 130.1,441.6 130.3,442.5 130.7,443.7 131.2,443.8 131.2,444.6 131.6,446.2 132.0,447.2 132.3,448.1 132.5,449.2 133.0,450.3 132.8,450.2 133.4,452.4 133.8,452.8 134.6,453.8 134.6,454.3 134.7,455.5 135.2,456.1 135.7,457.4 135.7,457.6 136.2,459.9 136.5,460.5 137.3,460.9 137.1,461.6 137.6,463.2 138.0,463.3 138.0,465.1 138.7,465.5 138.4,467.3 139.0,467.3 139.1,468.2 139.6,469.2 140.1,469.9 140.5,471.5 140.7,472.6 141.4,472.9 141.7,474.3 141.8,474.6 142.2,475.3 142.6,476.4 143.2,477.5 143.4,478.9 143.8,479.2 144.4,480.8 144.8,481.7 145.2,482.3 145.4,483.6 146.1,484.0 146.4,484.8 146.6,485.9 146.9,486.8 147.9,487.7 148.2,488.9 149.0,489.3 149.7,489.8 150.1,490.7 150.4,491.0 151.0,491.7 151.7,493.2 152.2,493.8 153.1,493.8 153.5,494.6 154.7,495.3 155.0,495.8 155.8,496.1 156.7,496.7 157.8,497.1 158.4,498.0 160.1,497.0 160.9,498.1 161.9,498.3 163.2,498.0 164.1,498.1 165.1,498.5 166.1,498.3 167.3,498.9 168.2,498.2 168.8,498.0 170.1,498.8 170.6,499.2 171.7,499.1 172.8,498.5 173.5,499.2 174.4,498.1 175.6,498.7 176.3,498.9 177.2,498.6 177.8,499.1 178.9,498.5 180.0,499.1 181.0,498.5 181.9,499.4 182.6,498.3 183.2,499.2 184.4,498.3 185.2,498.9 186.2,498.8 187.0,498.9 187.7,498.0 189.2,498.8 189.6,499.0 190.7,498.2 191.4,498.5 192.5,498.6 193.6,498.8 194.4,498.9 195.3,499.0 196.1,498.6 197.1,499.2 198.3,499.1 198.5,499.4 200.0,498.9 200.6,498.7 201.5,498.3 202.2,498.8 203.3,498.8 204.2,498.8 205.3,498.9 206.0,498.6 207.2,499.2 208.0,498.6 208.8,498.5 209.7,497.8 210.6,499.1 211.5,499.1 212.4,499.0 213.7,498.5 214.0,498.6 215.3,498.9 216.1,499.0 217.2,499.1 217.7,499.1 218.8,499.5 219.8,498.2 220.7,498.9 221.4,499.6 222.2,498.7 223.4,499.0 224.2,499.1 225.2,498.2 225.9,499.3 226.8,498.7 227.6,499.0 228.7,499.6 229.4,498.7 230.7,499.1 231.5,498.8 232.5,499.1 233.5,499.2 234.6,498.5 234.9,498.8 236.0,498.6 237.3,499.2 237.6,499.4 238.6,498.9 239.6,498.8 240.7,498.8 241.5,499.1 242.1,498.9 243.1,499.2 244.3,499.7 244.8,498.6 245.9,498.8 246.8,499.4 247.7,499.1 248.8,498.8 249.9,498.9 250.5,498.8 251.5,499.0 252.1,499.5 253.0,498.6 254.1,499.4 255.0,498.9 256.0,498.1 256.8,498.7 257.7,498.7 258.5,498.6 259.6,498.5 260.5,497.8 261.1,498.8 262.2,498.7 263.4,498.3 264.0,498.6 265.3,498.1 265.9,498.6 267.1,498.5 268.0,498.5 268.8,499.0 269.7,498.8 270.1,498.6 271.6,497.7 272.5,498.0 272.9,499.8 274.2,498.9 274.7,498.5 276.3,498.7 276.9,498.7 277.8,498.8 279.1,498.9 279.3,498.5 280.5,499.2 281.2,498.7 282.3,498.8 283.3,499.1 284.3,498.4 284.8,498.9 286.2,498.9 286.9,499.0 287.8,499.2 288.9,498.8 289.6,499.0 290.7,499.1 291.7,499.3 292.4,499.0 293.4,498.7 294.4,498.9 295.3,499.3 296.1,499.0 297.3,499.5 297.4,498.8 298.5,499.2 299.8,499.0 300.6,499.5 301.4,499.0 302.2,499.1 303.4,499.2 304.2,499.5 305.1,499.1 305.9,499.0 306.9,498.8 308.0,499.2 308.8,498.8 309.8,499.3 310.6,499.1 311.5,498.9 312.1,499.0 312.8,498.8 314.3,499.2 315.1,498.9 315.9,499.1 316.9,499.6 317.8,499.2 318.4,499.8 319.4,499.1 320.3,498.8 321.2,499.3 322.3,498.7 323.0,498.7 324.0,499.6 325.3,498.8 326.1,499.1 326.8,498.5 327.8,499.2 328.9,499.3 329.8,499.3 330.3,499.3 331.6,499.1 332.4,498.8 333.4,499.3 334.5,498.5 335.0,498.5 335.7,500.0 336.9,499.9 338.0,499.8 338.5,499.1 339.3,499.0 340.5,498.6 341.4,498.6 342.2,499.1 342.9,498.7 343.9,499.4 344.9,498.9 346.2,499.3 346.9,499.8 347.8,499.3 348.5,499.0 349.6,498.5 350.5,498.9 351.4,499.9 352.3,499.5 353.0,498.9 354.0,499.1" fill="none" stroke="#1c2cfa" stroke-width="1.7" stroke-linejoin="round" stroke-linecap="round" />
<polyline points="95.0,499.3 96.2,499.3 96.5,499.1 97.8,499.4 98.7,499.5 99.4,499.3 100.4,499.1 101.5,499.3 102.0,499.7 103.1,499.7 104.3,499.6 104.6,499.1 105.5,498.8 106.5,498.9 107.8,497.7 108.4,496.5 109.2,496.2 110.2,495.7 110.9,495.1 111.3,494.7 112.3,494.2 112.9,492.4 113.8,492.5 114.2,491.3 114.9,490.9 115.5,490.0 115.8,489.0 116.6,488.8 117.2,487.8 117.8,487.2 118.3,486.7 118.9,485.9 119.3,484.6 120.4,484.2 120.8,483.5 121.8,482.6 122.8,481.6 123.2,482.1 124.6,482.6 125.3,482.9 126.4,483.9 126.8,482.9 128.1,483.5 128.6,483.6 129.7,484.2 130.3,485.0 131.2,486.2 131.8,486.9 132.6,488.0 133.4,487.7 134.5,489.1 135.5,489.3 136.4,491.2 137.4,490.8 138.5,491.1 139.3,492.1 140.3,491.9 140.9,493.2 141.8,492.6 142.7,493.4 143.4,494.0 144.5,494.9 145.1,495.2 146.5,495.1 147.1,495.7 148.1,495.6 149.2,496.2 150.1,496.6 150.9,497.2 151.9,497.6 152.6,497.4 153.3,497.8 154.4,497.6 155.3,498.2 156.2,498.3 157.0,498.7 157.9,498.8 159.0,498.7 159.8,499.1 160.9,498.7 161.3,499.7 162.6,499.4 163.7,499.4 164.8,498.7 165.3,498.8 166.3,499.3 167.1,499.2 168.2,498.7 169.3,498.7 170.3,499.2 170.5,498.7 171.8,498.3 172.8,498.7 173.4,498.6 174.5,499.2 175.6,499.4 176.1,499.3 177.7,498.8 178.2,499.0 179.1,499.2 179.9,499.1 180.5,498.9 181.7,499.7 182.8,498.7 183.3,499.4 184.7,498.9 185.5,499.3 186.3,499.5 187.5,499.0 188.1,499.0 189.0,499.3 190.2,498.7 191.1,499.1 191.5,499.3 192.6,499.7 193.5,498.8 194.5,498.3 195.3,498.8 196.3,498.8 197.3,499.2 198.1,499.7 199.0,499.1 199.7,498.8 200.6,499.4 201.6,498.4 202.8,499.2 203.3,498.8 204.3,499.1 205.2,499.2 206.1,499.2 207.1,499.4 207.9,499.3 208.9,498.6 210.0,499.1 210.7,499.4 211.4,499.1 212.5,499.1 213.2,498.9 214.1,499.5 215.4,499.7 216.0,499.6 216.8,499.3 217.6,498.9 218.7,498.8 219.9,499.4 220.6,498.9 221.3,498.7 222.4,498.4 223.2,499.3 224.0,499.2 225.0,498.7 225.9,499.4 226.9,499.3 227.5,498.7 228.6,498.9 229.7,499.4 230.7,498.5 230.9,499.2 232.4,498.7 233.1,498.5 234.2,499.2 235.2,499.2 236.4,498.7 237.3,499.2 237.9,498.9 238.7,499.2 239.6,499.1 240.6,499.3 241.5,499.1 242.3,499.5 243.2,499.2 244.0,498.3 244.8,498.7 245.6,498.7 246.8,498.8 247.9,499.0 248.7,498.0 249.5,498.4 250.4,498.1 251.5,497.8 252.6,497.8 253.2,497.0 254.5,497.5 255.3,497.9 256.4,497.7 257.0,497.5 257.8,497.2 258.9,496.9 259.8,496.6 260.5,496.5 261.8,496.0 262.7,496.4 263.5,496.2 264.4,496.2 265.5,496.7 266.0,496.5 267.2,496.3 268.0,497.0 269.0,496.7 269.8,496.9 271.0,496.5 271.5,497.0 272.3,497.1 273.1,496.7 274.1,497.5 275.0,497.5 276.0,497.0 276.9,497.5 278.0,498.5 279.0,497.8 280.0,498.0 280.9,497.7 281.5,497.9 282.3,498.5 283.3,498.0 284.0,498.6 285.1,499.1 286.1,498.7 287.2,499.0 287.9,498.3 288.9,499.3 289.6,499.0 290.6,499.1 291.4,499.1 292.5,498.9 293.6,498.5 294.1,499.0 295.3,499.0 296.0,498.9 296.8,499.0 298.2,498.5 299.2,499.7 300.1,499.9 300.7,498.8 301.6,499.5 302.6,499.0 303.3,499.3 304.5,499.1 305.5,498.4 306.1,499.4 307.2,499.8 308.4,499.3 309.0,498.2 310.2,499.5 310.8,499.1 311.7,498.9 312.2,498.9 313.4,499.0 314.4,499.0 315.4,499.0 316.3,499.2 317.2,499.0 318.1,499.1 319.1,499.7 320.0,499.2" fill="none" stroke="#f80c1c" stroke-width="1.7" stroke-linejoin="round" stroke-linecap="round" />
<polyline points="38.8,499.1 39.9,499.5 40.3,498.6 41.7,499.1 42.2,499.0 43.6,498.9 44.5,498.6 45.3,499.3 46.0,499.4 47.4,499.0 47.9,498.9 48.8,498.6 50.0,499.3 50.8,499.3 51.7,499.3 52.5,499.4 53.4,499.4 54.1,498.5 55.2,499.0 56.1,498.6 57.2,499.1 57.9,499.4 59.1,499.2 60.2,499.2 60.8,498.9 61.6,499.1 62.6,499.0 63.4,499.0 64.4,498.9 65.4,498.5 66.2,498.7 67.2,498.7 68.1,498.9 69.0,498.8 69.6,499.6 70.9,499.2 71.5,498.9 72.7,499.6 73.5,499.4 74.7,498.8 75.4,499.3 76.4,498.9 77.1,498.7 78.3,499.0 79.1,499.3 80.0,499.5 81.3,498.8 81.9,498.8 82.8,499.2 83.8,499.1 84.5,499.2 85.7,499.0 86.3,499.2 87.2,499.0 88.2,498.5 89.1,499.5 90.1,498.3 91.1,498.7 91.9,499.4 92.7,499.0 93.6,499.4 95.1,498.9 95.6,498.6 96.6,498.9 97.7,499.1 98.4,499.1 99.3,498.5 100.4,498.5 101.3,498.9 102.0,498.7 102.9,498.3 103.6,497.6 104.4,496.9 105.2,496.1 106.3,495.2 106.4,494.7 107.2,494.6 107.9,493.5 108.0,493.2 108.6,492.2 108.8,491.2 109.5,490.4 109.9,488.1 109.9,488.5 110.4,487.3 110.6,486.4 111.2,485.7 111.4,484.6 111.8,483.2 112.1,482.5 112.8,481.8 113.1,481.2 113.3,480.3 113.8,479.6 114.2,479.2 114.5,478.1 115.2,476.3 115.7,475.2 115.7,474.9 116.0,474.4 116.0,472.6 116.7,471.3 117.3,470.3 117.6,470.4 117.7,468.6 118.3,467.7 118.6,467.6 119.2,466.4 119.4,465.7 120.2,464.2 120.6,463.8 121.2,462.9 121.5,462.3 122.4,462.0 122.8,460.6 123.7,460.8 124.9,460.9 126.3,461.0 127.1,461.1 128.0,461.9 129.0,462.4 129.8,463.2 130.2,463.8 131.0,465.0 131.3,466.1 132.0,467.1 132.3,468.3 132.8,468.6 132.7,469.5 133.1,470.1 133.6,471.0 134.3,471.8 134.8,473.6 135.0,474.7 135.4,475.4 135.8,475.4 136.8,476.8 137.2,477.4 137.9,478.5 138.2,479.8 139.2,480.1 139.5,481.7 140.1,482.5 140.6,483.3 141.5,484.2 142.0,485.4 142.6,485.8 142.9,486.5 143.4,487.6 143.8,488.6 144.9,490.0 145.3,490.3 146.1,490.7 146.8,491.1 147.8,492.1 148.7,493.5 149.1,493.1 150.4,494.7 151.2,495.1 152.3,495.3 153.0,496.0 153.8,495.7 154.7,497.0 155.6,497.2 156.5,497.4 157.8,497.4 158.5,498.4 159.5,497.8 160.5,498.0 161.5,498.4 162.4,498.3 163.3,497.8 164.1,499.1 165.3,498.3 166.1,499.0 167.4,498.3 167.9,497.9 168.6,498.6 170.3,499.4 170.8,498.4 171.9,498.8 172.8,498.8 173.6,499.1 174.8,498.9 175.5,499.0 176.5,498.9 177.2,499.5 178.0,498.7 178.9,499.3 180.4,499.1 181.2,499.0 181.7,498.9 182.5,499.1 183.5,498.1 184.5,498.6 185.5,499.6 186.3,498.4 186.8,498.3 187.9,499.7 189.0,498.1 190.0,498.8 190.8,498.8 191.7,499.2 192.7,498.6 193.7,498.7 194.4,498.9 195.4,498.8 196.2,499.3 197.2,498.1 198.1,498.6 199.0,498.7 199.7,498.8 200.7,498.4 201.3,499.0 202.6,498.0 203.3,499.7 204.1,498.8 205.5,498.5 206.2,498.3 207.2,498.6 208.0,499.5 209.1,498.8 209.4,498.8 210.6,499.4 212.0,499.0 212.5,499.2 213.2,499.5 214.1,498.3 215.2,498.9 216.5,498.7 217.0,499.2 217.9,498.7 218.7,499.0 220.0,499.9 220.6,499.1 221.7,498.3 222.6,498.7 223.1,499.1 224.2,498.9 225.1,498.8 226.0,498.9 227.0,499.2 227.8,498.9 228.7,498.8 229.7,498.9 230.2,498.8 231.3,498.9 232.8,498.9 232.8,499.3 234.3,498.3 234.8,498.6 235.9,498.3 236.9,498.6 237.8,498.8 238.5,498.8 239.9,499.2 240.5,498.6 241.2,499.6 242.4,498.5 243.2,499.2 244.1,499.3 245.0,499.0 245.9,498.9 247.0,499.3 247.7,499.3 248.6,498.3 249.7,498.4 250.6,498.3 251.3,498.5 252.6,497.8 253.7,498.0 254.0,498.0 255.0,497.6 255.8,498.9 256.8,497.0 258.3,497.8 258.7,498.1 260.0,498.2 260.8,497.3 261.6,497.6 262.5,497.2 263.4,497.5 264.5,497.6 265.4,496.7 266.4,497.3 267.3,497.3 268.2,497.8 268.7,497.8 270.0,497.6 270.8,498.0 271.6,497.8 272.2,497.4 273.6,497.8 274.3,497.9 275.5,498.0 276.1,497.9 277.2,498.3 277.9,498.4 278.7,498.1 279.9,498.3 280.6,498.5 281.5,498.1 282.6,498.8 283.5,498.8 284.3,499.1 284.9,499.0 286.0,499.1 286.8,499.0 287.7,498.8 288.6,498.9 289.7,499.3 290.5,499.0 291.4,498.9 292.5,498.6 293.1,498.7 294.6,498.8 295.2,499.3 296.1,499.0 297.4,499.1 297.9,499.5 298.6,498.3 299.6,499.0 300.5,499.1 301.6,499.1 302.2,498.8 303.2,498.9 304.2,498.6 305.1,499.4 305.8,498.8 307.0,499.1 308.1,499.0 308.9,499.1 309.7,498.9 310.7,498.7 311.3,499.5 312.4,498.7 313.4,499.0 314.1,498.1 315.1,499.2 316.1,498.6 316.9,499.1 317.8,498.9 318.5,499.2 319.7,497.8 320.5,498.2 321.5,499.0 322.4,498.6 323.1,498.9 324.0,498.9 324.9,499.6 325.9,499.0 326.9,499.1 327.8,498.9 328.7,499.1 329.5,499.4 330.6,499.0 331.4,499.0 331.9,499.3 333.1,499.1 333.9,498.5 335.2,498.6 335.9,499.5 336.6,499.0 338.0,499.8 338.5,499.2 339.4,499.0 340.2,498.6 341.2,498.8 342.1,499.2 343.2,499.3 344.3,499.4 345.1,499.9 345.8,499.0 346.6,500.1 347.9,499.1 348.7,499.1 349.6,499.7 350.5,499.1 351.4,499.2 352.1,499.3 353.1,499.1 354.0,499.1" fill="none" stroke="#0a800c" stroke-width="1.7" stroke-linejoin="round" stroke-linecap="round" />
<polyline points="64.0,551.3 64.9,551.2 65.7,551.0 66.7,551.0 67.6,551.0 68.3,551.3 70.2,549.9 70.9,550.1 72.3,550.5 73.0,550.7 74.3,549.9 75.4,549.9 76.8,549.8 77.7,549.9 78.7,549.3 79.7,548.4 80.8,548.7 81.6,550.0 83.1,548.3 84.2,549.4 85.7,549.5 86.1,548.7 87.7,548.7 88.5,548.9 89.7,548.8 90.9,547.9 91.8,548.2 93.0,548.2 94.0,548.8 95.2,548.2 95.7,548.2 96.7,548.1 97.8,547.3 98.5,547.7 99.6,546.6 100.5,546.1 101.0,546.7 102.1,546.0 103.3,546.5 104.1,545.7 105.0,544.7 105.9,545.0 106.9,545.3 107.5,543.8 108.3,544.0 109.3,543.5 110.2,543.1 111.3,542.2 111.5,541.4 111.5,540.4 111.9,539.7 112.0,539.5 112.4,539.0 113.5,539.5 114.5,539.4 114.8,538.6 116.0,538.1 116.3,536.9 116.3,536.5 117.2,535.7 117.9,535.1 119.2,534.8 119.7,534.1 120.9,533.3 121.3,531.5 122.4,532.6 123.7,533.3 123.9,532.1 124.7,530.3 126.0,531.1 126.9,532.8 128.7,531.9 128.8,532.7 129.5,532.7 130.0,533.9 131.0,534.7 131.8,535.1 132.9,535.5 133.8,536.9 134.1,537.3 134.5,538.6 135.4,538.3 136.8,539.0 138.5,539.4 138.9,540.7 139.3,539.8 140.7,540.8 141.5,541.0 141.7,541.5 142.6,541.1 143.2,542.8 143.4,543.6 144.0,544.0 144.2,545.5 145.3,545.0 146.4,545.2 147.4,545.4 148.4,545.9 149.0,547.6 150.7,546.9 151.2,547.6 152.0,547.7 152.5,547.2 153.9,547.8 155.0,548.8 156.1,547.9 157.2,548.2 158.2,548.4 158.9,549.1 159.9,549.6 161.1,548.2 161.9,548.9 163.1,549.4 163.8,549.5 164.7,549.2 165.8,549.4 166.8,549.9 168.3,550.0 168.8,549.8 169.6,550.2 171.1,549.7 171.7,550.0 172.6,549.7 174.1,550.5 174.6,550.5 175.3,550.0 176.5,549.4 177.0,550.1 178.3,549.3 179.4,549.3 179.8,550.4 181.1,549.7 181.9,550.3 182.7,549.8 183.8,550.1 184.5,549.8 185.5,549.8 186.1,549.7 187.5,549.9 188.5,549.9 189.3,550.0 189.7,550.2 191.2,550.2 191.5,549.4 192.8,549.4 193.4,550.0 194.4,549.8 195.5,549.9 196.4,549.9 197.6,549.6 198.3,549.3 199.1,549.5 200.3,549.4 200.9,550.1 201.9,550.6 202.6,550.3 203.5,549.5 204.8,550.5 205.5,549.5 206.4,549.6 207.5,549.2 208.0,549.8 209.3,549.7 209.9,549.7 211.1,549.8 211.8,550.4 212.8,549.7 213.8,549.3 214.5,548.9 215.7,548.9 216.4,549.3 217.7,549.0 218.1,548.7 219.7,549.9 220.7,549.5 222.0,549.1 223.0,549.6 223.9,550.2 225.4,549.3 225.6,549.4 227.0,549.5 228.2,549.7 229.0,549.0 229.5,548.7 230.5,547.9 232.0,547.3 232.3,547.3 233.3,547.2 234.9,547.4 235.5,546.8 236.6,546.1 237.6,546.0 238.4,544.8 239.3,543.8 240.5,545.0 240.9,544.5 242.2,546.0 243.0,544.5 243.8,543.9 244.2,543.7 245.0,542.3 246.0,541.0 246.4,541.4 247.5,541.3 247.9,540.4 248.7,539.3 249.3,538.9 250.4,538.4 251.5,537.7 251.9,537.1 252.8,537.8 253.1,535.6 253.7,534.7 254.3,533.8 255.8,532.3 256.6,532.7 257.2,530.6 258.8,530.9 259.4,530.0 260.3,528.5 260.5,527.9 261.2,526.2 262.1,527.4 263.0,528.5 264.2,527.7 265.4,526.5 266.4,526.6 267.0,527.4 267.8,528.6 268.5,528.8 269.0,529.5 269.9,530.3 270.9,531.7 272.1,530.5 272.6,530.6 273.6,530.9 274.7,532.9 275.8,531.7 276.6,530.7 277.2,530.5 277.7,532.4 278.5,534.0 278.7,534.0 280.0,535.2 280.1,535.0 281.1,534.7 282.0,535.3 282.6,536.7 283.2,537.3 284.2,536.9 285.2,538.9 286.2,539.1 287.8,539.8 288.3,540.6 289.5,540.0 290.1,541.2 290.8,542.6 292.0,542.5 293.1,540.8 294.2,541.4 295.2,542.4 295.5,544.2 296.4,543.5 297.8,544.1 298.9,543.4 299.8,544.7 300.7,544.6 302.1,544.6 303.2,545.1 303.9,545.4 305.2,545.8 305.9,546.4 306.8,545.3 307.9,545.4 308.2,546.1 309.6,547.1 310.9,546.9 311.8,547.0 312.9,547.5 314.0,547.5 314.9,546.5 315.9,547.4 317.1,547.6 318.4,547.2 319.2,547.6 320.3,548.1 321.7,548.7 322.7,548.3 323.7,548.5 324.9,548.2 325.8,548.4 326.8,548.6 328.1,549.2 329.4,548.7 330.3,549.5" fill="none" stroke="#0e0e0e" stroke-width="2.0" stroke-linejoin="round" stroke-linecap="round" />
<text x="90.9" y="38.1" font-family='"Liberation Sans", sans-serif' font-size="11" fill="#111" stroke="#111" stroke-width="0.15" ><tspan dy="-3.70" font-size="7.5">5</tspan><tspan dy="3.70" font-size="11">D</tspan><tspan dy="2.80" font-size="7.5">3</tspan><tspan dy="-2.80" dx="-0.7" font-size="11"> - </tspan><tspan dy="-3.70" dx="-0.8" font-size="7.5">7</tspan><tspan dy="3.70" font-size="11">F</tspan><tspan dy="2.80" font-size="7.5">6</tspan></text>
<text x="138.8" y="38.8" font-family='"Liberation Sans", sans-serif' font-size="11" fill="#111" stroke="#111" stroke-width="0.15" ><tspan dy="-3.70" font-size="7.5">5</tspan><tspan dy="3.70" font-size="11">D</tspan><tspan dy="2.80" font-size="7.5">3</tspan><tspan dy="-2.80" dx="-0.7" font-size="11"> - </tspan><tspan dy="-3.70" dx="-0.8" font-size="7.5">7</tspan><tspan dy="3.70" font-size="11">F</tspan><tspan dy="2.80" font-size="7.5">5</tspan></text>
<text x="156.8" y="52.9" font-family='"Liberation Sans", sans-serif' font-size="11" fill="#111" stroke="#111" stroke-width="0.15" ><tspan dy="-3.70" font-size="7.5">5</tspan><tspan dy="3.70" font-size="11">D</tspan><tspan dy="2.80" font-size="7.5">3</tspan><tspan dy="-2.80" dx="-0.7" font-size="11"> - </tspan><tspan dy="-3.70" dx="-0.8" font-size="7.5">7</tspan><tspan dy="3.70" font-size="11">F</tspan><tspan dy="2.80" font-size="7.5">4</tspan></text>
<text x="170.7" y="73.7" font-family='"Liberation Sans", sans-serif' font-size="11" fill="#111" stroke="#111" stroke-width="0.15" ><tspan dy="-3.70" font-size="7.5">5</tspan><tspan dy="3.70" font-size="11">D</tspan><tspan dy="2.80" font-size="7.5">3</tspan><tspan dy="-2.80" dx="-0.7" font-size="11"> - </tspan><tspan dy="-3.70" dx="-0.8" font-size="7.5">7</tspan><tspan dy="3.70" font-size="11">F</tspan><tspan dy="2.80" font-size="7.5">3</tspan></text>
<text x="226.3" y="42.2" font-family='"Liberation Sans", sans-serif' font-size="11" fill="#111" stroke="#111" stroke-width="0.15" ><tspan dy="-3.70" font-size="7.5">5</tspan><tspan dy="3.70" font-size="11">D</tspan><tspan dy="2.80" font-size="7.5">4</tspan><tspan dy="-2.80" dx="-0.7" font-size="11"> - </tspan><tspan dy="-3.70" dx="-0.8" font-size="7.5">7</tspan><tspan dy="3.70" font-size="11">F</tspan><tspan dy="2.80" font-size="7.5">6</tspan></text>
<text x="221.8" y="75.4" font-family='"Liberation Sans", sans-serif' font-size="11" fill="#111" stroke="#111" stroke-width="0.15" ><tspan dy="-3.70" font-size="7.5">5</tspan><tspan dy="3.70" font-size="11">D</tspan><tspan dy="2.80" font-size="7.5">4</tspan><tspan dy="-2.80" dx="-0.7" font-size="11"> - </tspan><tspan dy="-3.70" dx="-0.8" font-size="7.5">7</tspan><tspan dy="3.70" font-size="11">F</tspan><tspan dy="2.80" font-size="7.5">5</tspan></text>
<text x="227.2" y="93.4" font-family='"Liberation Sans", sans-serif' font-size="11" fill="#111" stroke="#111" stroke-width="0.15" ><tspan dy="-3.70" font-size="7.5">5</tspan><tspan dy="3.70" font-size="11">D</tspan><tspan dy="2.80" font-size="7.5">4</tspan><tspan dy="-2.80" dx="-0.7" font-size="11"> - </tspan><tspan dy="-3.70" dx="-0.8" font-size="7.5">7</tspan><tspan dy="3.70" font-size="11">F</tspan><tspan dy="2.80" font-size="7.5">4</tspan></text>
<line x1="114.2" y1="39.2" x2="133.6" y2="61.8" stroke="#333" stroke-width="0.9"/>
<line x1="133.6" y1="61.8" x2="129.53" y2="59.87" stroke="#333" stroke-width="0.9"/>
<line x1="133.6" y1="61.8" x2="132.31" y2="57.49" stroke="#333" stroke-width="0.9"/>
<line x1="152.7" y1="43.0" x2="151.4" y2="74.5" stroke="#333" stroke-width="0.9"/>
<line x1="151.4" y1="74.5" x2="149.74" y2="70.32" stroke="#333" stroke-width="0.9"/>
<line x1="151.4" y1="74.5" x2="153.40" y2="70.47" stroke="#333" stroke-width="0.9"/>
<line x1="166.4" y1="56.4" x2="165.4" y2="72.0" stroke="#333" stroke-width="0.9"/>
<line x1="165.4" y1="72.0" x2="163.84" y2="67.78" stroke="#333" stroke-width="0.9"/>
<line x1="165.4" y1="72.0" x2="167.49" y2="68.01" stroke="#333" stroke-width="0.9"/>
<line x1="191.5" y1="75.0" x2="175.9" y2="95.5" stroke="#333" stroke-width="0.9"/>
<line x1="175.9" y1="95.5" x2="176.93" y2="91.12" stroke="#333" stroke-width="0.9"/>
<line x1="175.9" y1="95.5" x2="179.85" y2="93.34" stroke="#333" stroke-width="0.9"/>
<line x1="239.3" y1="44.4" x2="192.8" y2="97.2" stroke="#333" stroke-width="0.9"/>
<line x1="192.8" y1="97.2" x2="194.14" y2="92.91" stroke="#333" stroke-width="0.9"/>
<line x1="192.8" y1="97.2" x2="196.89" y2="95.32" stroke="#333" stroke-width="0.9"/>
<line x1="230.7" y1="76.6" x2="224.6" y2="88.4" stroke="#333" stroke-width="0.9"/>
<line x1="224.6" y1="88.4" x2="224.86" y2="83.91" stroke="#333" stroke-width="0.9"/>
<line x1="224.6" y1="88.4" x2="228.11" y2="85.59" stroke="#333" stroke-width="0.9"/>
<line x1="248.7" y1="90.2" x2="240.6" y2="100.0" stroke="#333" stroke-width="0.9"/>
<line x1="240.6" y1="100.0" x2="241.81" y2="95.67" stroke="#333" stroke-width="0.9"/>
<line x1="240.6" y1="100.0" x2="244.63" y2="98.00" stroke="#333" stroke-width="0.9"/>
<text x="289.7" y="87.5" font-family='"Liberation Sans", sans-serif' font-size="13.25" fill="#4cec30" stroke="#4cec30" stroke-width="0.0">0.25%Tb</text>
<text x="52.9" y="140.3" font-family='"Liberation Sans", sans-serif' font-size="11" fill="#111" stroke="#111" stroke-width="0.15" ><tspan dy="-3.70" font-size="7.5">6</tspan><tspan dy="3.70" font-size="11">P</tspan><tspan dy="1.80" dx="-3.0" font-size="7.5" font-style="italic">7/2</tspan><tspan dy="-1.80" dx="0.9" font-size="11"> - </tspan><tspan dy="-3.70" dx="-0.3" font-size="7.5">8</tspan><tspan dy="3.70" font-size="11">S</tspan><tspan dy="1.80" dx="0.0" font-size="7.5" font-style="italic">7/2</tspan></text>
<text x="290.3" y="154.5" font-family='"Liberation Sans", sans-serif' font-size="13.25" fill="#4656ee" stroke="#4656ee" stroke-width="0.0">0.25%Gd</text>
<text x="208.3" y="199.3" font-family='"Liberation Sans", sans-serif' font-size="11" fill="#111" stroke="#111" stroke-width="0.15" ><tspan dy="-3.70" font-size="7.5">4</tspan><tspan dy="3.70" font-size="11">F</tspan><tspan dy="2.80" font-size="7.5">9/2</tspan><tspan dy="-2.80" dx="-0.7" font-size="11"> - </tspan><tspan dy="-3.70" dx="-0.8" font-size="7.5">6</tspan><tspan dy="3.70" font-size="11">H</tspan><tspan dy="2.80" font-size="7.5">15/2</tspan></text>
<text x="147.0" y="232.2" font-family='"Liberation Sans", sans-serif' font-size="11" fill="#111" stroke="#111" stroke-width="0.15" ><tspan dy="-3.70" font-size="7.5">4</tspan><tspan dy="3.70" font-size="11">F</tspan><tspan dy="2.80" font-size="7.5">9/2</tspan><tspan dy="-2.80" dx="-0.7" font-size="11"> - </tspan><tspan dy="-3.70" dx="-0.8" font-size="7.5">6</tspan><tspan dy="3.70" font-size="11">H</tspan><tspan dy="2.80" font-size="7.5">13/2</tspan></text>
<text x="250.0" y="245.9" font-family='"Liberation Sans", sans-serif' font-size="11" fill="#111" stroke="#111" stroke-width="0.15" ><tspan dy="-3.70" font-size="7.5">4</tspan><tspan dy="3.70" font-size="11">F</tspan><tspan dy="2.80" font-size="7.5">9/2</tspan><tspan dy="-2.80" dx="-0.7" font-size="11"> - </tspan><tspan dy="-3.70" dx="-0.8" font-size="7.5">6</tspan><tspan dy="3.70" font-size="11">H</tspan><tspan dy="2.80" font-size="7.5">11/2</tspan></text>
<text x="291.3" y="226.2" font-family='"Liberation Sans", sans-serif' font-size="13.25" fill="#4a1828" stroke="#4a1828" stroke-width="0.0">0.25%Dy</text>
<text x="222.6" y="298.4" font-family='"Liberation Sans", sans-serif' font-size="9.8" fill="#111" stroke="#111" stroke-width="0.15" ><tspan dy="-3.70" font-size="6.6">4</tspan><tspan dy="3.70" font-size="9.8">G</tspan><tspan dy="2.80" font-size="6.6">5/2</tspan><tspan dy="-2.80" dx="-0.6" font-size="9.8"> - </tspan><tspan dy="-3.70" dx="-0.6" font-size="6.6">6</tspan><tspan dy="3.70" font-size="9.8">H</tspan><tspan dy="2.80" font-size="6.6">7/2</tspan></text>
<text x="193.2" y="319.8" font-family='"Liberation Sans", sans-serif' font-size="9.8" fill="#111" stroke="#111" stroke-width="0.15" ><tspan dy="-3.70" font-size="6.6">4</tspan><tspan dy="3.70" font-size="9.8">G</tspan><tspan dy="2.80" font-size="6.6">5/2</tspan><tspan dy="-2.80" dx="-0.6" font-size="9.8"> - </tspan><tspan dy="-3.70" dx="-0.6" font-size="6.6">6</tspan><tspan dy="3.70" font-size="9.8">H</tspan><tspan dy="2.80" font-size="6.6">5/2</tspan></text>
<text x="257.3" y="316.8" font-family='"Liberation Sans", sans-serif' font-size="9.8" fill="#111" stroke="#111" stroke-width="0.15" ><tspan dy="-3.70" font-size="6.6">4</tspan><tspan dy="3.70" font-size="9.8">G</tspan><tspan dy="2.80" font-size="6.6">5/2</tspan><tspan dy="-2.80" dx="-0.6" font-size="9.8"> - </tspan><tspan dy="-3.70" dx="-0.6" font-size="6.6">6</tspan><tspan dy="3.70" font-size="9.8">H</tspan><tspan dy="2.80" font-size="6.6">9/2</tspan></text>
<line x1="249.8" y1="306.3" x2="249.8" y2="329.5" stroke="#333" stroke-width="0.9"/>
<line x1="249.8" y1="329.5" x2="247.97" y2="325.39" stroke="#333" stroke-width="0.9"/>
<line x1="249.8" y1="329.5" x2="251.63" y2="325.39" stroke="#333" stroke-width="0.9"/>
<line x1="219.4" y1="323.4" x2="229.6" y2="335.3" stroke="#333" stroke-width="0.9"/>
<line x1="229.6" y1="335.3" x2="225.53" y2="333.37" stroke="#333" stroke-width="0.9"/>
<line x1="229.6" y1="335.3" x2="228.31" y2="330.99" stroke="#333" stroke-width="0.9"/>
<line x1="280.2" y1="321.0" x2="277.7" y2="328.7" stroke="#333" stroke-width="0.9"/>
<line x1="277.7" y1="328.7" x2="277.33" y2="325.22" stroke="#333" stroke-width="0.9"/>
<line x1="277.7" y1="328.7" x2="280.04" y2="326.10" stroke="#333" stroke-width="0.9"/>
<text x="291.0" y="298.8" font-family='"Liberation Sans", sans-serif' font-size="13.25" fill="#e01018" stroke="#e01018" stroke-width="0.0">0.25%Sm</text>
<text x="48.4" y="407.9" font-family='"Liberation Sans", sans-serif' font-size="9.2" fill="#111" stroke="#111" stroke-width="0.15" ><tspan dy="-3.20" font-size="5.6">1</tspan><tspan dy="3.20" dx="0.0" font-size="9.2">I</tspan><tspan dy="1.30" dx="0.4" font-size="5.6">6</tspan><tspan dy="-1.30" dx="0.2" font-size="9.2"> - </tspan><tspan dy="-3.20" dx="0.4" font-size="5.6">3</tspan><tspan dy="3.20" font-size="9.2">H</tspan><tspan dy="1.30" dx="1.0" font-size="5.6">6</tspan></text>
<text x="78.9" y="378.0" font-family='"Liberation Sans", sans-serif' font-size="10" fill="#111" stroke="#111" stroke-width="0.15" ><tspan dy="-3.60" font-size="6.2">1</tspan><tspan dy="3.60" dx="0.0" font-size="10">D</tspan><tspan dy="2.00" dx="-0.1" font-size="6.2">2</tspan><tspan dy="-2.00" dx="0.2" font-size="10"> - </tspan><tspan dy="-3.60" dx="0.2" font-size="6.2">3</tspan><tspan dy="3.60" font-size="10">H</tspan><tspan dy="2.00" dx="0.2" font-size="6.2">6</tspan></text>
<text x="153.2" y="356.0" font-family='"Liberation Sans", sans-serif' font-size="10.5" fill="#111" stroke="#111" stroke-width="0.15" ><tspan dy="-3.60" font-size="8">1</tspan><tspan dy="3.60" font-size="10.5">D</tspan><tspan dy="0.80" font-size="8">2</tspan><tspan dy="-0.80" dx="-0.7" font-size="10.5"> - </tspan><tspan dy="-3.60" dx="-0.8" font-size="8">3</tspan><tspan dy="3.60" font-size="10.5">F</tspan><tspan dy="0.80" font-size="8">4</tspan></text>
<text x="182.9" y="395.4" font-family='"Liberation Sans", sans-serif' font-size="9.8" fill="#111" stroke="#111" stroke-width="0.15" ><tspan dy="-3.40" font-size="5.8">1</tspan><tspan dy="3.40" dx="0.4" font-size="9.8">G</tspan><tspan dy="1.50" dx="0.2" font-size="5.8">4</tspan><tspan dy="-1.50" dx="-0.6" font-size="9.8"> - </tspan><tspan dy="-3.40" dx="0.3" font-size="5.8">3</tspan><tspan dy="3.40" font-size="9.8">H</tspan><tspan dy="1.50" dx="0.4" font-size="5.8">6</tspan></text>
<text x="283.0" y="397.5" font-family='"Liberation Sans", sans-serif' font-size="13.25" fill="#7a18f0" stroke="#7a18f0" stroke-width="0.0">0.25%Tm</text>
<text x="163.2" y="446.0" font-family='"Liberation Sans", sans-serif' font-size="13.25" fill="#1c2cf5" stroke="#1c2cf5" stroke-width="0.0">0.25%<tspan dx="0.6" dy="-0.2" font-size="14.3">Er</tspan></text>
<text x="165.0" y="468.8" font-family='"Liberation Sans", sans-serif' font-size="12.9" fill="#0a800c" stroke="#0a800c" stroke-width="0.0">0.25%Ho</text>
<text x="165.6" y="487.8" font-family='"Liberation Sans", sans-serif' font-size="13.25" fill="#f01020" stroke="#f01020" stroke-width="0.0">0.25%Nd</text>
<text x="293.0" y="525.6" font-family='"Liberation Sans", sans-serif' font-size="13.25" fill="#111" stroke="#111" stroke-width="0.05">LiMgPO<tspan font-size="7" dx="-0.3" dy="2.6">4</tspan></text>
</svg>
</body></html>
